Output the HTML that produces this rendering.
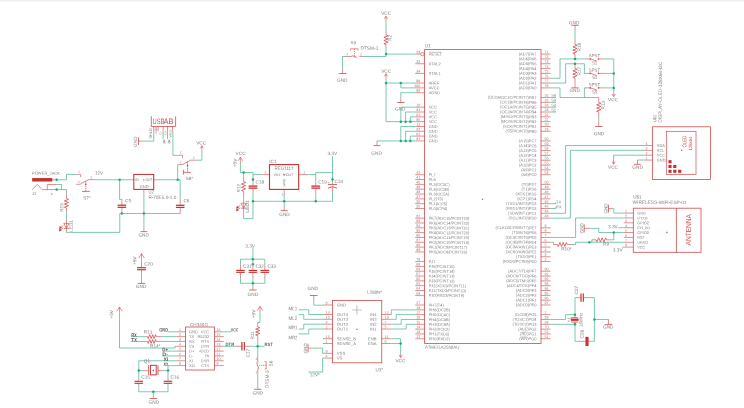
<!DOCTYPE html>
<html><head><meta charset="utf-8"><title>Schematic</title>
<style>
html,body{margin:0;padding:0;background:#fff;}
body{width:744px;height:408px;overflow:hidden;font-family:"Liberation Sans",sans-serif;}
svg{display:block;font-family:"Liberation Sans",sans-serif;}
.top{position:absolute;left:0;top:0;width:744px;height:2px;background:linear-gradient(#ececec,#fafafa);}
</style></head><body>
<div class="top"></div>
<svg width="744" height="408" viewBox="0 0 744 408" style="position:absolute;left:0;top:0;opacity:0.999" stroke-linecap="butt" stroke-linejoin="miter">
<defs><filter id="tb" x="0" y="0" width="744" height="408" filterUnits="userSpaceOnUse"><feGaussianBlur stdDeviation="0.22"/></filter></defs>
<rect x="424.6" y="49.6" width="116.4" height="293.9" stroke="#cf4a4a" stroke-width="0.8" fill="none"/>
<circle cx="482.5" cy="199.3" r="0.7" fill="#cf4a4a"/>
<polyline points="415.2,54.1 420.6,54.1" stroke="#cf4a4a" stroke-width="0.62" fill="none" />
<circle cx="422.4" cy="54.1" r="1.7" stroke="#cf4a4a" stroke-width="0.6" fill="none"/>
<polyline points="415.2,63.75 424.6,63.75" stroke="#cf4a4a" stroke-width="0.62" fill="none" />
<polyline points="415.2,73.4 424.6,73.4" stroke="#cf4a4a" stroke-width="0.62" fill="none" />
<polyline points="415.2,83.05 424.6,83.05" stroke="#cf4a4a" stroke-width="0.62" fill="none" />
<polyline points="415.2,87.88 424.6,87.88" stroke="#cf4a4a" stroke-width="0.62" fill="none" />
<polyline points="415.2,92.7 424.6,92.7" stroke="#cf4a4a" stroke-width="0.62" fill="none" />
<polyline points="415.2,107.18 424.6,107.18" stroke="#cf4a4a" stroke-width="0.62" fill="none" />
<polyline points="415.2,112 424.6,112" stroke="#cf4a4a" stroke-width="0.62" fill="none" />
<polyline points="415.2,116.83 424.6,116.83" stroke="#cf4a4a" stroke-width="0.62" fill="none" />
<polyline points="415.2,121.65 424.6,121.65" stroke="#cf4a4a" stroke-width="0.62" fill="none" />
<polyline points="415.2,126.47 424.6,126.47" stroke="#cf4a4a" stroke-width="0.62" fill="none" />
<polyline points="415.2,131.3 424.6,131.3" stroke="#cf4a4a" stroke-width="0.62" fill="none" />
<polyline points="415.2,136.12 424.6,136.12" stroke="#cf4a4a" stroke-width="0.62" fill="none" />
<polyline points="415.2,140.95 424.6,140.95" stroke="#cf4a4a" stroke-width="0.62" fill="none" />
<polyline points="415.2,174.72 424.6,174.72" stroke="#cf4a4a" stroke-width="0.62" fill="none" />
<polyline points="415.2,179.55 424.6,179.55" stroke="#cf4a4a" stroke-width="0.62" fill="none" />
<polyline points="415.2,184.38 424.6,184.38" stroke="#cf4a4a" stroke-width="0.62" fill="none" />
<polyline points="415.2,189.2 424.6,189.2" stroke="#cf4a4a" stroke-width="0.62" fill="none" />
<polyline points="415.2,194.03 424.6,194.03" stroke="#cf4a4a" stroke-width="0.62" fill="none" />
<polyline points="415.2,198.85 424.6,198.85" stroke="#cf4a4a" stroke-width="0.62" fill="none" />
<polyline points="415.2,203.68 424.6,203.68" stroke="#cf4a4a" stroke-width="0.62" fill="none" />
<polyline points="415.2,208.5 424.6,208.5" stroke="#cf4a4a" stroke-width="0.62" fill="none" />
<polyline points="415.2,218.15 424.6,218.15" stroke="#cf4a4a" stroke-width="0.62" fill="none" />
<polyline points="415.2,222.97 424.6,222.97" stroke="#cf4a4a" stroke-width="0.62" fill="none" />
<polyline points="415.2,227.8 424.6,227.8" stroke="#cf4a4a" stroke-width="0.62" fill="none" />
<polyline points="415.2,232.62 424.6,232.62" stroke="#cf4a4a" stroke-width="0.62" fill="none" />
<polyline points="415.2,237.45 424.6,237.45" stroke="#cf4a4a" stroke-width="0.62" fill="none" />
<polyline points="415.2,242.28 424.6,242.28" stroke="#cf4a4a" stroke-width="0.62" fill="none" />
<polyline points="415.2,247.1 424.6,247.1" stroke="#cf4a4a" stroke-width="0.62" fill="none" />
<polyline points="415.2,251.93 424.6,251.93" stroke="#cf4a4a" stroke-width="0.62" fill="none" />
<polyline points="415.2,261.57 424.6,261.57" stroke="#cf4a4a" stroke-width="0.62" fill="none" />
<polyline points="415.2,266.4 424.6,266.4" stroke="#cf4a4a" stroke-width="0.62" fill="none" />
<polyline points="415.2,271.23 424.6,271.23" stroke="#cf4a4a" stroke-width="0.62" fill="none" />
<polyline points="415.2,276.05 424.6,276.05" stroke="#cf4a4a" stroke-width="0.62" fill="none" />
<polyline points="415.2,280.88 424.6,280.88" stroke="#cf4a4a" stroke-width="0.62" fill="none" />
<polyline points="415.2,285.7 424.6,285.7" stroke="#cf4a4a" stroke-width="0.62" fill="none" />
<polyline points="415.2,290.53 424.6,290.53" stroke="#cf4a4a" stroke-width="0.62" fill="none" />
<polyline points="415.2,295.35 424.6,295.35" stroke="#cf4a4a" stroke-width="0.62" fill="none" />
<polyline points="415.2,305 424.6,305" stroke="#cf4a4a" stroke-width="0.62" fill="none" />
<polyline points="415.2,309.83 424.6,309.83" stroke="#cf4a4a" stroke-width="0.62" fill="none" />
<polyline points="415.2,314.65 424.6,314.65" stroke="#cf4a4a" stroke-width="0.62" fill="none" />
<polyline points="415.2,319.48 424.6,319.48" stroke="#cf4a4a" stroke-width="0.62" fill="none" />
<polyline points="415.2,324.3 424.6,324.3" stroke="#cf4a4a" stroke-width="0.62" fill="none" />
<polyline points="415.2,329.13 424.6,329.13" stroke="#cf4a4a" stroke-width="0.62" fill="none" />
<polyline points="415.2,333.95 424.6,333.95" stroke="#cf4a4a" stroke-width="0.62" fill="none" />
<polyline points="415.2,338.78 424.6,338.78" stroke="#cf4a4a" stroke-width="0.62" fill="none" />
<polyline points="507.6,129.4 512.9,129.4" stroke="#7e7e7e" stroke-width="0.35" fill="none" />
<polyline points="521.3,332.05 526.9,332.05" stroke="#7e7e7e" stroke-width="0.35" fill="none" />
<polyline points="520.6,336.88 527,336.88" stroke="#7e7e7e" stroke-width="0.35" fill="none" />
<polyline points="429.3,52.2 441.7,52.2" stroke="#7e7e7e" stroke-width="0.35" fill="none" />
<polyline points="541,54.1 550.6,54.1" stroke="#cf4a4a" stroke-width="0.62" fill="none" />
<polyline points="541,58.93 550.6,58.93" stroke="#cf4a4a" stroke-width="0.62" fill="none" />
<polyline points="541,63.75 550.6,63.75" stroke="#cf4a4a" stroke-width="0.62" fill="none" />
<polyline points="541,68.58 550.6,68.58" stroke="#cf4a4a" stroke-width="0.62" fill="none" />
<polyline points="541,73.4 550.6,73.4" stroke="#cf4a4a" stroke-width="0.62" fill="none" />
<polyline points="541,78.22 550.6,78.22" stroke="#cf4a4a" stroke-width="0.62" fill="none" />
<polyline points="541,83.05 550.6,83.05" stroke="#cf4a4a" stroke-width="0.62" fill="none" />
<polyline points="541,87.88 550.6,87.88" stroke="#cf4a4a" stroke-width="0.62" fill="none" />
<polyline points="541,97.53 550.6,97.53" stroke="#cf4a4a" stroke-width="0.62" fill="none" />
<polyline points="541,102.35 550.6,102.35" stroke="#cf4a4a" stroke-width="0.62" fill="none" />
<polyline points="541,107.18 550.6,107.18" stroke="#cf4a4a" stroke-width="0.62" fill="none" />
<polyline points="541,112 550.6,112" stroke="#cf4a4a" stroke-width="0.62" fill="none" />
<polyline points="541,116.83 550.6,116.83" stroke="#cf4a4a" stroke-width="0.62" fill="none" />
<polyline points="541,121.65 550.6,121.65" stroke="#cf4a4a" stroke-width="0.62" fill="none" />
<polyline points="541,126.47 550.6,126.47" stroke="#cf4a4a" stroke-width="0.62" fill="none" />
<polyline points="541,131.3 550.6,131.3" stroke="#cf4a4a" stroke-width="0.62" fill="none" />
<polyline points="541,140.95 550.6,140.95" stroke="#cf4a4a" stroke-width="0.62" fill="none" />
<polyline points="541,145.78 550.6,145.78" stroke="#cf4a4a" stroke-width="0.62" fill="none" />
<polyline points="541,150.6 550.6,150.6" stroke="#cf4a4a" stroke-width="0.62" fill="none" />
<polyline points="541,155.43 550.6,155.43" stroke="#cf4a4a" stroke-width="0.62" fill="none" />
<polyline points="541,160.25 550.6,160.25" stroke="#cf4a4a" stroke-width="0.62" fill="none" />
<polyline points="541,165.08 550.6,165.08" stroke="#cf4a4a" stroke-width="0.62" fill="none" />
<polyline points="541,169.9 550.6,169.9" stroke="#cf4a4a" stroke-width="0.62" fill="none" />
<polyline points="541,174.72 550.6,174.72" stroke="#cf4a4a" stroke-width="0.62" fill="none" />
<polyline points="541,184.38 550.6,184.38" stroke="#cf4a4a" stroke-width="0.62" fill="none" />
<polyline points="541,189.2 550.6,189.2" stroke="#cf4a4a" stroke-width="0.62" fill="none" />
<polyline points="541,194.03 550.6,194.03" stroke="#cf4a4a" stroke-width="0.62" fill="none" />
<polyline points="541,198.85 550.6,198.85" stroke="#cf4a4a" stroke-width="0.62" fill="none" />
<polyline points="541,203.68 550.6,203.68" stroke="#cf4a4a" stroke-width="0.62" fill="none" />
<polyline points="541,208.5 550.6,208.5" stroke="#cf4a4a" stroke-width="0.62" fill="none" />
<polyline points="541,213.32 550.6,213.32" stroke="#cf4a4a" stroke-width="0.62" fill="none" />
<polyline points="541,218.15 550.6,218.15" stroke="#cf4a4a" stroke-width="0.62" fill="none" />
<polyline points="541,227.8 550.6,227.8" stroke="#cf4a4a" stroke-width="0.62" fill="none" />
<polyline points="541,232.62 550.6,232.62" stroke="#cf4a4a" stroke-width="0.62" fill="none" />
<polyline points="541,237.45 550.6,237.45" stroke="#cf4a4a" stroke-width="0.62" fill="none" />
<polyline points="541,242.28 550.6,242.28" stroke="#cf4a4a" stroke-width="0.62" fill="none" />
<polyline points="541,247.1 550.6,247.1" stroke="#cf4a4a" stroke-width="0.62" fill="none" />
<polyline points="541,251.93 550.6,251.93" stroke="#cf4a4a" stroke-width="0.62" fill="none" />
<polyline points="541,256.75 550.6,256.75" stroke="#cf4a4a" stroke-width="0.62" fill="none" />
<polyline points="541,261.57 550.6,261.57" stroke="#cf4a4a" stroke-width="0.62" fill="none" />
<polyline points="541,271.23 550.6,271.23" stroke="#cf4a4a" stroke-width="0.62" fill="none" />
<polyline points="541,276.05 550.6,276.05" stroke="#cf4a4a" stroke-width="0.62" fill="none" />
<polyline points="541,280.88 550.6,280.88" stroke="#cf4a4a" stroke-width="0.62" fill="none" />
<polyline points="541,285.7 550.6,285.7" stroke="#cf4a4a" stroke-width="0.62" fill="none" />
<polyline points="541,290.53 550.6,290.53" stroke="#cf4a4a" stroke-width="0.62" fill="none" />
<polyline points="541,295.35 550.6,295.35" stroke="#cf4a4a" stroke-width="0.62" fill="none" />
<polyline points="541,300.18 550.6,300.18" stroke="#cf4a4a" stroke-width="0.62" fill="none" />
<polyline points="541,305 550.6,305" stroke="#cf4a4a" stroke-width="0.62" fill="none" />
<polyline points="541,314.65 550.6,314.65" stroke="#cf4a4a" stroke-width="0.62" fill="none" />
<polyline points="541,319.48 550.6,319.48" stroke="#cf4a4a" stroke-width="0.62" fill="none" />
<polyline points="541,324.3 550.6,324.3" stroke="#cf4a4a" stroke-width="0.62" fill="none" />
<polyline points="541,329.13 550.6,329.13" stroke="#cf4a4a" stroke-width="0.62" fill="none" />
<polyline points="541,333.95 550.6,333.95" stroke="#cf4a4a" stroke-width="0.62" fill="none" />
<polyline points="541,338.78 550.6,338.78" stroke="#cf4a4a" stroke-width="0.62" fill="none" />
<polyline points="386,16.3 386,21.3" stroke="#cf4a4a" stroke-width="0.62" fill="none" />
<polyline points="384.4,18.9 386,16.3 387.6,18.9" stroke="#cf4a4a" stroke-width="0.62" fill="none" />
<polyline points="386,21.3 386,31" stroke="#35b085" stroke-width="0.66" fill="none" />
<polyline points="386,31 386,35" stroke="#cf4a4a" stroke-width="0.62" fill="none" />
<polyline points="386,35 388.1,35.79 383.9,37.38 388.1,38.96 383.9,40.54 388.1,42.12 383.9,43.71 386,44.5" stroke="#cf4a4a" stroke-width="0.8" fill="none" />
<polyline points="386,44.5 386,48" stroke="#cf4a4a" stroke-width="0.62" fill="none" />
<polyline points="386,48 386,54.1" stroke="#35b085" stroke-width="0.66" fill="none" />
<circle cx="386" cy="54.1" r="1.25" fill="#22a877"/>
<polyline points="363.8,56.5 386,56.5 386,54.1 415.2,54.1" stroke="#35b085" stroke-width="0.66" fill="none" />
<polyline points="342.5,68.8 342.5,56.5 345,56.5" stroke="#35b085" stroke-width="0.66" fill="none" />
<polyline points="345,56.5 352,56.5" stroke="#cf4a4a" stroke-width="0.62" fill="none" />
<polyline points="359.4,56.5 363.8,56.5" stroke="#cf4a4a" stroke-width="0.62" fill="none" />
<polyline points="351.8,55.6 356.9,57.3" stroke="#cf4a4a" stroke-width="0.7" fill="none" />
<polyline points="350.4,50.6 350.4,48.8 358.1,48.8 358.1,50.6" stroke="#cf4a4a" stroke-width="0.62" fill="none" />
<polyline points="354.4,48.8 354.4,57.5" stroke="#cf4a4a" stroke-width="0.7" fill="none" stroke-dasharray="1.2 0.8"/>
<polyline points="342.5,68.8 342.5,73.5" stroke="#cf4a4a" stroke-width="0.62" fill="none" />
<polyline points="338.6,73.5 346.4,73.5" stroke="#cf4a4a" stroke-width="0.8" fill="none" />
<polyline points="386,73.8 386,78.6" stroke="#cf4a4a" stroke-width="0.62" fill="none" />
<polyline points="384.4,76.4 386,73.8 387.6,76.4" stroke="#cf4a4a" stroke-width="0.62" fill="none" />
<polyline points="386,78.6 386,121.65 415.2,121.65" stroke="#35b085" stroke-width="0.66" fill="none" />
<polyline points="386,83.05 415.2,83.05" stroke="#35b085" stroke-width="0.66" fill="none" />
<circle cx="386" cy="83.05" r="1.25" fill="#22a877"/>
<circle cx="400.8" cy="83.05" r="1.25" fill="#22a877"/>
<polyline points="400.8,83.05 400.8,87.88 415.2,87.88" stroke="#35b085" stroke-width="0.66" fill="none" />
<polyline points="415.2,92.7 400.8,92.7 400.8,98.5" stroke="#35b085" stroke-width="0.66" fill="none" />
<polyline points="400.8,98.5 400.8,102.5" stroke="#cf4a4a" stroke-width="0.62" fill="none" />
<polyline points="397.1,102.5 404.5,102.5" stroke="#cf4a4a" stroke-width="0.8" fill="none" />
<polyline points="415.2,107.18 400.8,107.18 400.8,121.65" stroke="#35b085" stroke-width="0.66" fill="none" />
<circle cx="400.8" cy="121.65" r="1.25" fill="#22a877"/>
<polyline points="415.2,112 405.6,112 405.6,121.65" stroke="#35b085" stroke-width="0.66" fill="none" />
<circle cx="405.6" cy="121.65" r="1.25" fill="#22a877"/>
<polyline points="415.2,116.83 410.3,116.83 410.3,121.65" stroke="#35b085" stroke-width="0.66" fill="none" />
<circle cx="410.3" cy="121.65" r="1.25" fill="#22a877"/>
<polyline points="415.2,126.47 400.8,126.47 400.8,140.95" stroke="#35b085" stroke-width="0.66" fill="none" />
<circle cx="400.8" cy="140.95" r="1.25" fill="#22a877"/>
<polyline points="415.2,131.3 405.6,131.3 405.6,140.95" stroke="#35b085" stroke-width="0.66" fill="none" />
<circle cx="405.6" cy="140.95" r="1.25" fill="#22a877"/>
<polyline points="415.2,136.12 410.3,136.12 410.3,140.95" stroke="#35b085" stroke-width="0.66" fill="none" />
<circle cx="410.3" cy="140.95" r="1.25" fill="#22a877"/>
<polyline points="377,140.95 415.2,140.95" stroke="#35b085" stroke-width="0.66" fill="none" />
<polyline points="377,140.95 377,145.6" stroke="#cf4a4a" stroke-width="0.62" fill="none" />
<polyline points="373.5,145.6 380.5,145.6" stroke="#cf4a4a" stroke-width="0.8" fill="none" />
<polyline points="571.3,25.3 578.7,25.3" stroke="#cf4a4a" stroke-width="0.8" fill="none" />
<polyline points="575,25.3 575,30" stroke="#cf4a4a" stroke-width="0.62" fill="none" />
<polyline points="575,30 575,40" stroke="#35b085" stroke-width="0.66" fill="none" />
<polyline points="575,40 575,44.5" stroke="#cf4a4a" stroke-width="0.62" fill="none" />
<polyline points="575,44.5 577.1,45.29 572.9,46.88 577.1,48.46 572.9,50.04 577.1,51.62 572.9,53.21 575,54" stroke="#cf4a4a" stroke-width="0.8" fill="none" />
<polyline points="575,54 575,58.93" stroke="#cf4a4a" stroke-width="0.62" fill="none" />
<polyline points="550.6,78.22 560,78.22 560,58.93 585,58.93" stroke="#35b085" stroke-width="0.66" fill="none" />
<circle cx="575" cy="58.93" r="1.25" fill="#22a877"/>
<polyline points="550.6,83.05 565.6,83.05 565.6,63.75 584.4,63.75 584.4,73.4 585.2,73.4" stroke="#35b085" stroke-width="0.66" fill="none" />
<circle cx="575" cy="63.75" r="1.25" fill="#22a877"/>
<polyline points="575,63.75 575,68.5" stroke="#cf4a4a" stroke-width="0.62" fill="none" />
<polyline points="575,68.5 577.1,69.29 572.9,70.88 577.1,72.46 572.9,74.04 577.1,75.62 572.9,77.21 575,78" stroke="#cf4a4a" stroke-width="0.8" fill="none" />
<polyline points="575,78 575,87.88" stroke="#cf4a4a" stroke-width="0.62" fill="none" />
<polyline points="571.3,87.88 578.7,87.88" stroke="#cf4a4a" stroke-width="0.8" fill="none" />
<polyline points="550.6,87.88 560,87.88 560,97.53 598.75,97.53" stroke="#35b085" stroke-width="0.66" fill="none" />
<polyline points="584.4,87.88 584.4,97.53" stroke="#35b085" stroke-width="0.66" fill="none" />
<polyline points="584.4,87.88 585.2,87.88" stroke="#35b085" stroke-width="0.66" fill="none" />
<polyline points="585,58.93 590.5,58.93" stroke="#cf4a4a" stroke-width="0.62" fill="none" />
<polyline points="598,58.93 603.8,58.93" stroke="#cf4a4a" stroke-width="0.62" fill="none" />
<polyline points="590.5,58.93 596.8,61.13" stroke="#cf4a4a" stroke-width="0.7" fill="none" />
<circle cx="590.3" cy="58.93" r="0.8" fill="#cf4a4a"/>
<circle cx="598.4" cy="58.93" r="0.8" fill="#cf4a4a"/>
<polyline points="603.8,58.93 613.75,58.93" stroke="#35b085" stroke-width="0.66" fill="none" />
<polyline points="585,73.4 590.5,73.4" stroke="#cf4a4a" stroke-width="0.62" fill="none" />
<polyline points="598,73.4 603.8,73.4" stroke="#cf4a4a" stroke-width="0.62" fill="none" />
<polyline points="590.5,73.4 596.8,75.6" stroke="#cf4a4a" stroke-width="0.7" fill="none" />
<circle cx="590.3" cy="73.4" r="0.8" fill="#cf4a4a"/>
<circle cx="598.4" cy="73.4" r="0.8" fill="#cf4a4a"/>
<polyline points="603.8,73.4 613.75,73.4" stroke="#35b085" stroke-width="0.66" fill="none" />
<polyline points="585,87.88 590.5,87.88" stroke="#cf4a4a" stroke-width="0.62" fill="none" />
<polyline points="598,87.88 603.8,87.88" stroke="#cf4a4a" stroke-width="0.62" fill="none" />
<polyline points="590.5,87.88 596.8,90.08" stroke="#cf4a4a" stroke-width="0.7" fill="none" />
<circle cx="590.3" cy="87.88" r="0.8" fill="#cf4a4a"/>
<circle cx="598.4" cy="87.88" r="0.8" fill="#cf4a4a"/>
<polyline points="603.8,87.88 613.75,87.88" stroke="#35b085" stroke-width="0.66" fill="none" />
<polyline points="613.75,58.93 613.75,92.5" stroke="#35b085" stroke-width="0.66" fill="none" />
<circle cx="613.75" cy="73.4" r="1.25" fill="#22a877"/>
<circle cx="613.75" cy="87.88" r="1.25" fill="#22a877"/>
<polyline points="613.75,96.6 613.75,92.5" stroke="#cf4a4a" stroke-width="0.62" fill="none" />
<polyline points="612.15,94 613.75,96.6 615.35,94" stroke="#cf4a4a" stroke-width="0.62" fill="none" />
<polyline points="598.75,97.53 598.75,102.5" stroke="#cf4a4a" stroke-width="0.62" fill="none" />
<polyline points="598.75,102.5 600.85,103.29 596.65,104.88 600.85,106.46 596.65,108.04 600.85,109.62 596.65,111.21 598.75,112" stroke="#cf4a4a" stroke-width="0.8" fill="none" />
<polyline points="598.75,112 598.75,117" stroke="#cf4a4a" stroke-width="0.62" fill="none" />
<polyline points="598.75,117 598.75,122" stroke="#35b085" stroke-width="0.66" fill="none" />
<polyline points="598.75,122 598.75,126.5" stroke="#cf4a4a" stroke-width="0.62" fill="none" />
<polyline points="595.05,126.5 602.45,126.5" stroke="#cf4a4a" stroke-width="0.8" fill="none" />
<polyline points="550.6,97.53 556,97.53" stroke="#35b085" stroke-width="0.66" fill="none" />
<polyline points="550.6,102.35 556,102.35" stroke="#35b085" stroke-width="0.66" fill="none" />
<polyline points="550.6,107.18 556,107.18" stroke="#35b085" stroke-width="0.66" fill="none" />
<polyline points="550.6,112 556,112" stroke="#35b085" stroke-width="0.66" fill="none" />
<polyline points="550.6,213.32 565.6,213.32 565.6,145.5 644.3,145.5" stroke="#35b085" stroke-width="0.66" fill="none" />
<polyline points="550.6,218.15 570.4,218.15 570.4,150.3 644.3,150.3" stroke="#35b085" stroke-width="0.66" fill="none" />
<polyline points="550.6,203.68 555.8,203.68 555.8,202.08" stroke="#35b085" stroke-width="0.66" fill="none" />
<polyline points="550.6,208.5 555.8,208.5 555.8,206.9" stroke="#35b085" stroke-width="0.66" fill="none" />
<rect x="652.4" y="126.8" width="58.1" height="52.7" stroke="#cf4a4a" stroke-width="0.8" fill="none"/>
<rect x="666.3" y="131.3" width="29.7" height="43.2" stroke="#cf4a4a" stroke-width="0.7" fill="none"/>
<polyline points="644.3,145.5 652.4,145.5" stroke="#cf4a4a" stroke-width="0.62" fill="none" />
<polyline points="644.3,150.35 652.4,150.35" stroke="#cf4a4a" stroke-width="0.62" fill="none" />
<polyline points="644.3,155.2 652.4,155.2" stroke="#cf4a4a" stroke-width="0.62" fill="none" />
<polyline points="644.3,160.05 652.4,160.05" stroke="#cf4a4a" stroke-width="0.62" fill="none" />
<rect x="668.45" y="160.15" width="3.1" height="3.1" fill="#c62f2f"/>
<rect x="668.45" y="164.95" width="3.1" height="3.1" fill="#c62f2f"/>
<rect x="673.25" y="164.95" width="3.1" height="3.1" fill="#c62f2f"/>
<rect x="668.45" y="169.75" width="3.1" height="3.1" fill="#c62f2f"/>
<rect x="673.25" y="169.75" width="3.1" height="3.1" fill="#c62f2f"/>
<rect x="678.15" y="169.75" width="3.1" height="3.1" fill="#c62f2f"/>
<circle cx="681.7" cy="150.3" r="0.7" fill="#cf4a4a"/>
<polyline points="644.3,155.2 613.6,155.2 613.6,160" stroke="#35b085" stroke-width="0.66" fill="none" />
<polyline points="613.6,164.2 613.6,160" stroke="#cf4a4a" stroke-width="0.62" fill="none" />
<polyline points="612,161.6 613.6,164.2 615.2,161.6" stroke="#cf4a4a" stroke-width="0.62" fill="none" />
<polyline points="644.3,160 637.5,160" stroke="#35b085" stroke-width="0.66" fill="none" />
<polyline points="637.5,160 637.5,164.3" stroke="#cf4a4a" stroke-width="0.62" fill="none" />
<polyline points="634.1,164.3 640.9,164.3" stroke="#cf4a4a" stroke-width="0.8" fill="none" />
<rect x="633.3" y="208.2" width="67.7" height="44.1" stroke="#cf4a4a" stroke-width="0.8" fill="none"/>
<polyline points="676.4,208.2 676.4,252.3" stroke="#cf4a4a" stroke-width="0.8" fill="none" />
<path d="M665.8 232.5h2M666.8 231.5v2" stroke="#cf4a4a" stroke-width="0.5"/>
<polyline points="623.75,213.1 633.3,213.1" stroke="#cf4a4a" stroke-width="0.62" fill="none" />
<polyline points="623.75,217.96 633.3,217.96" stroke="#cf4a4a" stroke-width="0.62" fill="none" />
<polyline points="623.75,222.82 633.3,222.82" stroke="#cf4a4a" stroke-width="0.62" fill="none" />
<polyline points="623.75,227.68 633.3,227.68" stroke="#cf4a4a" stroke-width="0.62" fill="none" />
<polyline points="623.75,232.54 633.3,232.54" stroke="#cf4a4a" stroke-width="0.62" fill="none" />
<polyline points="623.75,237.4 633.3,237.4" stroke="#cf4a4a" stroke-width="0.62" fill="none" />
<polyline points="623.75,242.26 633.3,242.26" stroke="#cf4a4a" stroke-width="0.62" fill="none" />
<polyline points="623.75,247.12 633.3,247.12" stroke="#cf4a4a" stroke-width="0.62" fill="none" />
<polyline points="623.75,213.1 613.75,213.1 613.75,208.6 611,208.6" stroke="#35b085" stroke-width="0.66" fill="none" />
<polyline points="611,208.6 608.5,208.6" stroke="#cf4a4a" stroke-width="0.62" fill="none" />
<polyline points="608.5,204.8 608.5,212.5" stroke="#cf4a4a" stroke-width="0.8" fill="none" />
<polyline points="550.6,237.45 575.6,237.45 575.6,217.96 623.75,217.96" stroke="#35b085" stroke-width="0.66" fill="none" />
<polyline points="618.3,227.68 623.75,227.68" stroke="#35b085" stroke-width="0.66" fill="none" />
<polyline points="623.75,232.54 598.75,232.54 598.75,228.4 589,228.4" stroke="#35b085" stroke-width="0.66" fill="none" />
<polyline points="589,228.4 584.2,228.4" stroke="#cf4a4a" stroke-width="0.62" fill="none" />
<polyline points="584.2,224.4 584.2,232.5" stroke="#cf4a4a" stroke-width="0.8" fill="none" />
<circle cx="613.75" cy="232.54" r="1.25" fill="#22a877"/>
<polyline points="613.75,232.54 613.75,239.8 611.2,239.8" stroke="#35b085" stroke-width="0.66" fill="none" />
<polyline points="591.9,239.8 596,239.8" stroke="#cf4a4a" stroke-width="0.62" fill="none" />
<polyline points="596,239.8 596.88,241.8 598.62,237.8 600.38,241.8 602.12,237.8 603.88,241.8 605.62,237.8 606.5,239.8" stroke="#cf4a4a" stroke-width="0.8" fill="none" />
<polyline points="606.5,239.8 611.2,239.8" stroke="#cf4a4a" stroke-width="0.62" fill="none" />
<polyline points="591.9,239.8 591.9,242.26" stroke="#35b085" stroke-width="0.66" fill="none" />
<circle cx="589.4" cy="242.26" r="1.25" fill="#22a877"/>
<polyline points="550.6,242.28 553.6,242.28 553.6,244.5" stroke="#35b085" stroke-width="0.66" fill="none" />
<polyline points="553.6,244.5 557.5,244.5" stroke="#cf4a4a" stroke-width="0.62" fill="none" />
<polyline points="557.5,244.5 558.31,246.5 559.92,242.5 561.54,246.5 563.16,242.5 564.78,246.5 566.39,242.5 567.2,244.5" stroke="#cf4a4a" stroke-width="0.8" fill="none" />
<polyline points="567.2,244.5 572,244.5" stroke="#cf4a4a" stroke-width="0.62" fill="none" />
<polyline points="572,244.5 575.6,244.5 575.6,242.26 623.75,242.26" stroke="#35b085" stroke-width="0.66" fill="none" />
<polyline points="621.8,247.12 623.75,247.12" stroke="#35b085" stroke-width="0.66" fill="none" />
<polyline points="550.6,319.48 565.6,319.48 565.6,314.65 575,314.65" stroke="#35b085" stroke-width="0.66" fill="none" />
<polyline points="550.6,324.3 575,324.3" stroke="#35b085" stroke-width="0.66" fill="none" />
<circle cx="575" cy="314.65" r="1.25" fill="#22a877"/>
<circle cx="575" cy="324.3" r="1.25" fill="#22a877"/>
<polyline points="575,297.6 575,314.65" stroke="#35b085" stroke-width="0.66" fill="none" />
<polyline points="575,324.3 575,341.3 580,341.3" stroke="#35b085" stroke-width="0.66" fill="none" />
<polyline points="575,314.65 575,317.6" stroke="#cf4a4a" stroke-width="0.62" fill="none" />
<polyline points="575,322 575,324.3" stroke="#cf4a4a" stroke-width="0.62" fill="none" />
<polyline points="571.2,317.6 578.2,317.6" stroke="#cf4a4a" stroke-width="0.8" fill="none" />
<polyline points="571.2,322 578.2,322" stroke="#cf4a4a" stroke-width="0.8" fill="none" />
<rect x="571" y="318.9" width="7.4" height="1.8" stroke="#c62f2f" stroke-width="0.5" fill="#c62f2f"/>
<polyline points="575,297.6 576,297.6" stroke="#35b085" stroke-width="0.66" fill="none" />
<polyline points="576,297.6 581,297.6" stroke="#cf4a4a" stroke-width="0.62" fill="none" />
<polyline points="583.2,297.6 588.8,297.6" stroke="#cf4a4a" stroke-width="0.62" fill="none" />
<polyline points="581,293.4 581,301.8" stroke="#c62f2f" stroke-width="1.2" fill="none" />
<polyline points="583.3,293.4 583.3,301.8" stroke="#c62f2f" stroke-width="1.2" fill="none" />
<polyline points="588.8,297.6 594.4,297.6 594.4,341.3 590.5,341.3" stroke="#35b085" stroke-width="0.66" fill="none" />
<polyline points="580,341.3 585.6,341.3" stroke="#cf4a4a" stroke-width="0.62" fill="none" />
<polyline points="588.5,341.3 590.5,341.3" stroke="#cf4a4a" stroke-width="0.62" fill="none" />
<rect x="585.7" y="337" width="2.7" height="8.9" stroke="#c62f2f" stroke-width="0.3" fill="#c62f2f"/>
<circle cx="594.4" cy="319.48" r="1.25" fill="#22a877"/>
<polyline points="594.4,319.48 608.5,319.48" stroke="#35b085" stroke-width="0.66" fill="none" />
<polyline points="608.5,319.48 608.5,324.4" stroke="#cf4a4a" stroke-width="0.62" fill="none" />
<polyline points="604.8,324.4 612.2,324.4" stroke="#cf4a4a" stroke-width="0.8" fill="none" />
<rect x="32.2" y="178.1" width="20" height="3.3" stroke="#c62f2f" stroke-width="0.2" fill="#c62f2f"/>
<polyline points="52.2,179.75 56.7,179.75" stroke="#cf4a4a" stroke-width="0.62" fill="none" />
<circle cx="56.7" cy="179.75" r="1.25" fill="#22a877"/>
<polyline points="56.7,179.75 66.5,179.75 66.5,174.4 76.8,174.4" stroke="#35b085" stroke-width="0.66" fill="none" />
<polyline points="76.8,174.4 80.7,174.4 80.7,177.2" stroke="#cf4a4a" stroke-width="0.62" fill="none" />
<polyline points="32.2,189.8 37.3,184.3 42.2,189.6 56.7,189.6" stroke="#cf4a4a" stroke-width="0.62" fill="none" />
<polyline points="47.3,189.6 47.3,184.5 56.7,184.5" stroke="#cf4a4a" stroke-width="0.62" fill="none" />
<polyline points="56.7,184.5 61.6,184.5 61.6,189.6" stroke="#35b085" stroke-width="0.66" fill="none" />
<circle cx="56.7" cy="189.6" r="1.25" fill="#22a877"/>
<polyline points="56.7,189.6 66.5,189.6 66.5,194.3" stroke="#35b085" stroke-width="0.66" fill="none" />
<circle cx="51.8" cy="194.1" r="0.7" fill="#cf4a4a"/>
<polyline points="66.5,194.3 66.5,198.6" stroke="#cf4a4a" stroke-width="0.62" fill="none" />
<polyline points="66.5,198.6 68.6,199.38 64.4,200.95 68.6,202.52 64.4,204.08 68.6,205.65 64.4,207.22 66.5,208" stroke="#cf4a4a" stroke-width="0.8" fill="none" />
<polyline points="66.5,208 66.5,212.4" stroke="#cf4a4a" stroke-width="0.62" fill="none" />
<polyline points="66.5,212.4 66.5,219.3" stroke="#35b085" stroke-width="0.66" fill="none" />
<polyline points="66.5,219.3 66.5,232.4" stroke="#cf4a4a" stroke-width="0.62" fill="none" />
<path d="M63.8 223.4h5.4l-2.7 4.9zM63.8 228.4h5.4" stroke="#cf4a4a" stroke-width="0.65" fill="none"/>
<path d="M63.3 225.6l-3.2 2.4M63.1 228l-3.2 2.4M59.3 231l0.5-2 1.4 1.4zM59.5 228.5l0.5-2 1.4 1.4z" stroke="#c62f2f" stroke-width="0.6" fill="#c62f2f"/>
<polyline points="66.5,232.4 119.75,232.4 119.75,213.5" stroke="#35b085" stroke-width="0.66" fill="none" />
<polyline points="76.2,184.3 80.7,184.3" stroke="#cf4a4a" stroke-width="0.62" fill="none" />
<polyline points="80.7,183.6 88.8,179.7" stroke="#cf4a4a" stroke-width="0.7" fill="none" />
<polyline points="88.6,179.6 95,179.6" stroke="#cf4a4a" stroke-width="0.62" fill="none" />
<polyline points="85.8,181.6 85.8,191.3" stroke="#cf4a4a" stroke-width="0.7" fill="none" stroke-dasharray="1.5 0.6"/>
<polyline points="82.1,191.4 89.8,191.4" stroke="#cf4a4a" stroke-width="0.8" fill="none" />
<path d="M85.8 183.3l0.9 1-0.9 1-0.9-1z" fill="#c62f2f"/>
<polyline points="95,179.75 129.2,179.75" stroke="#35b085" stroke-width="0.66" fill="none" />
<polyline points="129.2,179.75 133.9,179.75" stroke="#cf4a4a" stroke-width="0.62" fill="none" />
<circle cx="119.6" cy="179.75" r="1.25" fill="#22a877"/>
<polyline points="119.6,179.75 119.6,199.4 121.9,199.4" stroke="#35b085" stroke-width="0.66" fill="none" />
<polyline points="121.9,199.4 121.9,205.1" stroke="#cf4a4a" stroke-width="0.62" fill="none" />
<polyline points="121.9,207.4 121.9,213.5" stroke="#cf4a4a" stroke-width="0.62" fill="none" />
<polyline points="117.6,205.2 126.2,205.2" stroke="#c62f2f" stroke-width="1.25" fill="none" />
<polyline points="117.6,207.3 126.2,207.3" stroke="#c62f2f" stroke-width="1.25" fill="none" />
<circle cx="121.9" cy="213.5" r="1.25" fill="#22a877"/>
<polyline points="119.75,213.5 180.2,213.5" stroke="#35b085" stroke-width="0.66" fill="none" />
<rect x="133.8" y="174.4" width="19.9" height="15" stroke="#c62f2f" stroke-width="1.05" fill="none"/>
<polyline points="153.8,179.75 157.6,179.75" stroke="#cf4a4a" stroke-width="0.62" fill="none" />
<circle cx="143.8" cy="179.8" r="0.65" fill="#c62f2f"/>
<polyline points="143.9,189.6 143.9,194" stroke="#cf4a4a" stroke-width="0.62" fill="none" />
<polyline points="143.9,194 143.9,227" stroke="#35b085" stroke-width="0.66" fill="none" />
<circle cx="143.9" cy="213.5" r="1.25" fill="#22a877"/>
<polyline points="143.9,227 143.9,231.6" stroke="#cf4a4a" stroke-width="0.62" fill="none" />
<polyline points="140.5,231.6 147.3,231.6" stroke="#cf4a4a" stroke-width="0.8" fill="none" />
<polyline points="157.6,179.75 180.2,179.75 180.2,200" stroke="#35b085" stroke-width="0.66" fill="none" />
<circle cx="177.7" cy="179.75" r="1.25" fill="#22a877"/>
<polyline points="180.2,200 180.2,205.2" stroke="#cf4a4a" stroke-width="0.62" fill="none" />
<polyline points="180.2,207.6 180.2,213.5" stroke="#cf4a4a" stroke-width="0.62" fill="none" />
<polyline points="175.9,205.3 184.5,205.3" stroke="#c62f2f" stroke-width="1.25" fill="none" />
<polyline points="175.9,207.4 184.5,207.4" stroke="#c62f2f" stroke-width="1.25" fill="none" />
<polyline points="177.7,179.75 177.7,164.6 178.8,164.6" stroke="#35b085" stroke-width="0.66" fill="none" />
<polyline points="178.8,164.6 182.6,164.6" stroke="#cf4a4a" stroke-width="0.62" fill="none" />
<polyline points="182.6,164.6 190.5,160.2" stroke="#cf4a4a" stroke-width="0.7" fill="none" />
<polyline points="190.5,160.2 196,160.2" stroke="#cf4a4a" stroke-width="0.62" fill="none" />
<polyline points="196,160.2 201.9,160.2 201.9,150.6" stroke="#35b085" stroke-width="0.66" fill="none" />
<polyline points="201.9,145.8 201.9,150.6" stroke="#cf4a4a" stroke-width="0.62" fill="none" />
<polyline points="200.3,148.4 201.9,145.8 203.5,148.4" stroke="#cf4a4a" stroke-width="0.62" fill="none" />
<polyline points="187.5,161.6 187.5,172.3" stroke="#cf4a4a" stroke-width="0.7" fill="none" stroke-dasharray="1.5 0.6"/>
<polyline points="183.4,172.3 191,172.3" stroke="#cf4a4a" stroke-width="0.8" fill="none" />
<polyline points="183.4,169.8 183.4,174.7" stroke="#cf4a4a" stroke-width="0.8" fill="none" />
<path d="M187.5 164.4l0.9 1-0.9 1-0.9-1z" fill="#c62f2f"/>
<polyline points="151.3,116.3 151.3,126.5 175.6,126.5 175.6,116.3" stroke="#cf4a4a" stroke-width="0.8" fill="none" />
<polyline points="153.75,126.5 153.75,131.3" stroke="#cf4a4a" stroke-width="0.62" fill="none" />
<polyline points="158.1,126.5 158.1,131.3" stroke="#cf4a4a" stroke-width="0.62" fill="none" />
<polyline points="163.1,126.5 163.1,131.3" stroke="#cf4a4a" stroke-width="0.62" fill="none" />
<polyline points="167.5,126.5 167.5,131.3" stroke="#cf4a4a" stroke-width="0.62" fill="none" />
<polyline points="172.6,126.5 172.6,131.3" stroke="#cf4a4a" stroke-width="0.62" fill="none" />
<polyline points="153.75,131.3 153.75,141.1 143.8,141.1" stroke="#35b085" stroke-width="0.66" fill="none" />
<polyline points="143.8,141.1 138.5,141.1" stroke="#cf4a4a" stroke-width="0.62" fill="none" />
<polyline points="138.5,137.3 138.5,145" stroke="#cf4a4a" stroke-width="0.8" fill="none" />
<polyline points="163.1,131.3 163.1,138.8" stroke="#35b085" stroke-width="0.66" fill="none" />
<polyline points="167.5,131.3 167.5,138.8" stroke="#35b085" stroke-width="0.66" fill="none" />
<path d="M163.2 139.6l2 2.6M165.2 139.6l-2 2.6M162.9 142.8h2.6" stroke="#777" stroke-width="0.6"/>
<path d="M168.2 139.6l2 2.6M170.2 139.6l-2 2.6M167.9 142.8h2.6" stroke="#777" stroke-width="0.6"/>
<polyline points="172.9,131.3 172.9,155.3 178.1,155.3" stroke="#35b085" stroke-width="0.66" fill="none" />
<polyline points="178.1,155.3 182.5,155.3 182.5,158.1" stroke="#cf4a4a" stroke-width="0.62" fill="none" />
<polyline points="240.4,157.2 240.4,164" stroke="#cf4a4a" stroke-width="0.62" fill="none" />
<polyline points="238.1,160.8 240.4,157.2 242.7,160.8" stroke="#cf4a4a" stroke-width="0.62" fill="none" />
<polyline points="240.4,164 240.4,172.5 253,172.5 253,174.6" stroke="#35b085" stroke-width="0.66" fill="none" />
<circle cx="243.6" cy="172.5" r="1.25" fill="#22a877"/>
<polyline points="253,174.6 262.5,174.6" stroke="#35b085" stroke-width="0.66" fill="none" />
<polyline points="262.5,174.6 269.4,174.6" stroke="#cf4a4a" stroke-width="0.62" fill="none" />
<polyline points="243.6,172.5 243.6,177.5" stroke="#35b085" stroke-width="0.66" fill="none" />
<polyline points="243.6,177.5 243.6,181.6" stroke="#cf4a4a" stroke-width="0.62" fill="none" />
<polyline points="243.6,181.6 245.7,182.41 241.5,184.03 245.7,185.64 241.5,187.26 245.7,188.88 241.5,190.49 243.6,191.3" stroke="#cf4a4a" stroke-width="0.8" fill="none" />
<polyline points="243.6,191.3 243.6,196.3" stroke="#cf4a4a" stroke-width="0.62" fill="none" />
<polyline points="243.6,196.3 243.6,202.5" stroke="#35b085" stroke-width="0.66" fill="none" />
<polyline points="243.6,202.5 243.6,213" stroke="#cf4a4a" stroke-width="0.62" fill="none" />
<polyline points="243.6,213 243.6,218.6" stroke="#35b085" stroke-width="0.66" fill="none" />
<path d="M240.9 203.2h5.4l-2.7 4.9zM240.9 208.2h5.4" stroke="#cf4a4a" stroke-width="0.65" fill="none"/>
<path d="M240.4 205.4l-3.2 2.4M240.2 207.8l-3.2 2.4M236.4 210.8l0.5-2 1.4 1.4zM236.6 208.3l0.5-2 1.4 1.4z" stroke="#c62f2f" stroke-width="0.6" fill="#c62f2f"/>
<polyline points="243.6,218.6 253,218.6 253,201.3" stroke="#35b085" stroke-width="0.66" fill="none" />
<polyline points="253,174.6 253,181.5" stroke="#35b085" stroke-width="0.66" fill="none" />
<circle cx="253" cy="179.6" r="1.25" fill="#22a877"/>
<polyline points="253,181.5 253,185.6" stroke="#cf4a4a" stroke-width="0.62" fill="none" />
<polyline points="253,188.6 253,193" stroke="#cf4a4a" stroke-width="0.62" fill="none" />
<polyline points="248.6,186.1 257.4,186.1" stroke="#c62f2f" stroke-width="1.3" fill="none" />
<polyline points="248.6,188.1 257.4,188.1" stroke="#c62f2f" stroke-width="1.3" fill="none" />
<polyline points="253,193 253,201.3" stroke="#35b085" stroke-width="0.66" fill="none" />
<rect x="269.5" y="164.6" width="29.2" height="24.8" stroke="#c62f2f" stroke-width="1.1" fill="none"/>
<circle cx="283.9" cy="174.6" r="0.7" fill="#c62f2f"/>
<polyline points="298.7,174.6 308.2,174.6" stroke="#cf4a4a" stroke-width="0.62" fill="none" />
<polyline points="308.2,174.6 315.75,174.6 315.75,181.5" stroke="#35b085" stroke-width="0.66" fill="none" />
<polyline points="315.75,172.6 332.5,172.6" stroke="#35b085" stroke-width="0.66" fill="none" />
<polyline points="315.75,172.6 315.75,174.6" stroke="#35b085" stroke-width="0.66" fill="none" />
<polyline points="315.75,181.5 315.75,185.6" stroke="#cf4a4a" stroke-width="0.62" fill="none" />
<polyline points="315.75,188.6 315.75,193" stroke="#cf4a4a" stroke-width="0.62" fill="none" />
<polyline points="311.35,186.1 320.15,186.1" stroke="#c62f2f" stroke-width="1.3" fill="none" />
<polyline points="311.35,188.1 320.15,188.1" stroke="#c62f2f" stroke-width="1.3" fill="none" />
<polyline points="315.75,193 315.75,201.3" stroke="#35b085" stroke-width="0.66" fill="none" />
<polyline points="332.5,156 332.5,182.5" stroke="#35b085" stroke-width="0.66" fill="none" />
<circle cx="332.5" cy="179.6" r="1.25" fill="#22a877"/>
<polyline points="332.5,182.5 332.5,184.6" stroke="#cf4a4a" stroke-width="0.62" fill="none" />
<polyline points="328,184.6 337,184.6" stroke="#cf4a4a" stroke-width="0.9" fill="none" />
<path d="M328 188.2q4.5 -3 9 0" stroke="#cf4a4a" stroke-width="0.9" fill="none"/>
<polyline points="332.5,186.7 332.5,191" stroke="#cf4a4a" stroke-width="0.62" fill="none" />
<polyline points="332.5,191 332.5,201.3" stroke="#35b085" stroke-width="0.66" fill="none" />
<polyline points="253,201.3 332.5,201.3" stroke="#35b085" stroke-width="0.66" fill="none" />
<circle cx="253" cy="201.3" r="1.25" fill="#22a877"/>
<circle cx="284.2" cy="201.3" r="1.25" fill="#22a877"/>
<circle cx="315.75" cy="201.3" r="1.25" fill="#22a877"/>
<polyline points="284.2,189.6 284.2,196" stroke="#cf4a4a" stroke-width="0.62" fill="none" />
<polyline points="284.2,196 284.2,207" stroke="#35b085" stroke-width="0.66" fill="none" />
<polyline points="284.2,207 284.2,210.6" stroke="#cf4a4a" stroke-width="0.62" fill="none" />
<polyline points="280.8,210.6 287.6,210.6" stroke="#cf4a4a" stroke-width="0.8" fill="none" />
<polyline points="141.5,253.6 141.5,258.4" stroke="#cf4a4a" stroke-width="0.62" fill="none" />
<polyline points="138.7,258 141.5,253.6 144.3,258" stroke="#cf4a4a" stroke-width="0.62" fill="none" />
<polyline points="141.5,258.4 141.5,262" stroke="#35b085" stroke-width="0.66" fill="none" />
<polyline points="141.5,262 141.5,267.5" stroke="#cf4a4a" stroke-width="0.62" fill="none" />
<polyline points="141.5,270 141.5,276" stroke="#cf4a4a" stroke-width="0.62" fill="none" />
<polyline points="137,267.7 146,267.7" stroke="#c62f2f" stroke-width="1.15" fill="none" />
<polyline points="137,269.7 146,269.7" stroke="#c62f2f" stroke-width="1.15" fill="none" />
<polyline points="141.5,276 141.5,279" stroke="#35b085" stroke-width="0.66" fill="none" />
<polyline points="141.5,279 141.5,283.4" stroke="#cf4a4a" stroke-width="0.62" fill="none" />
<polyline points="137.8,283.4 145.2,283.4" stroke="#cf4a4a" stroke-width="0.8" fill="none" />
<polyline points="252.9,247.6 252.9,264.3" stroke="#35b085" stroke-width="0.66" fill="none" />
<circle cx="252.9" cy="259.2" r="1.25" fill="#22a877"/>
<circle cx="252.9" cy="264.3" r="1.25" fill="#22a877"/>
<polyline points="240.5,264.5 240.5,259.2 264.8,259.2 264.8,264.5" stroke="#35b085" stroke-width="0.66" fill="none" />
<polyline points="240.5,264.5 240.5,270.3" stroke="#cf4a4a" stroke-width="0.62" fill="none" />
<polyline points="240.5,272.5 240.5,278" stroke="#cf4a4a" stroke-width="0.62" fill="none" />
<polyline points="236.2,270.4 244.8,270.4" stroke="#c62f2f" stroke-width="1.15" fill="none" />
<polyline points="236.2,272.3 244.8,272.3" stroke="#c62f2f" stroke-width="1.15" fill="none" />
<polyline points="252.9,264.5 252.9,270.3" stroke="#cf4a4a" stroke-width="0.62" fill="none" />
<polyline points="252.9,272.5 252.9,278" stroke="#cf4a4a" stroke-width="0.62" fill="none" />
<polyline points="248.6,270.4 257.2,270.4" stroke="#c62f2f" stroke-width="1.15" fill="none" />
<polyline points="248.6,272.3 257.2,272.3" stroke="#c62f2f" stroke-width="1.15" fill="none" />
<polyline points="264.8,264.5 264.8,270.3" stroke="#cf4a4a" stroke-width="0.62" fill="none" />
<polyline points="264.8,272.5 264.8,278" stroke="#cf4a4a" stroke-width="0.62" fill="none" />
<polyline points="260.5,270.4 269.1,270.4" stroke="#c62f2f" stroke-width="1.15" fill="none" />
<polyline points="260.5,272.3 269.1,272.3" stroke="#c62f2f" stroke-width="1.15" fill="none" />
<polyline points="240.5,278 240.5,283.3 264.8,283.3 264.8,278" stroke="#35b085" stroke-width="0.66" fill="none" />
<polyline points="252.9,278 252.9,287" stroke="#35b085" stroke-width="0.66" fill="none" />
<circle cx="252.9" cy="283.3" r="1.25" fill="#22a877"/>
<polyline points="252.9,287 252.9,290" stroke="#cf4a4a" stroke-width="0.62" fill="none" />
<polyline points="249.2,290 256.6,290" stroke="#cf4a4a" stroke-width="0.8" fill="none" />
<rect x="185.6" y="327" width="28.9" height="43" stroke="#cf4a4a" stroke-width="0.8" fill="none"/>
<polyline points="176.3,331.8 185.6,331.8" stroke="#cf4a4a" stroke-width="0.62" fill="none" />
<polyline points="214.5,331.8 223.75,331.8" stroke="#cf4a4a" stroke-width="0.62" fill="none" />
<polyline points="176.3,336.63 185.6,336.63" stroke="#cf4a4a" stroke-width="0.62" fill="none" />
<polyline points="214.5,336.63 223.75,336.63" stroke="#cf4a4a" stroke-width="0.62" fill="none" />
<polyline points="176.3,341.46 185.6,341.46" stroke="#cf4a4a" stroke-width="0.62" fill="none" />
<polyline points="214.5,341.46 223.75,341.46" stroke="#cf4a4a" stroke-width="0.62" fill="none" />
<polyline points="176.3,346.29 185.6,346.29" stroke="#cf4a4a" stroke-width="0.62" fill="none" />
<polyline points="214.5,346.29 223.75,346.29" stroke="#cf4a4a" stroke-width="0.62" fill="none" />
<polyline points="176.3,351.12 185.6,351.12" stroke="#cf4a4a" stroke-width="0.62" fill="none" />
<polyline points="214.5,351.12 223.75,351.12" stroke="#cf4a4a" stroke-width="0.62" fill="none" />
<polyline points="176.3,355.95 185.6,355.95" stroke="#cf4a4a" stroke-width="0.62" fill="none" />
<polyline points="214.5,355.95 223.75,355.95" stroke="#cf4a4a" stroke-width="0.62" fill="none" />
<polyline points="176.3,360.78 185.6,360.78" stroke="#cf4a4a" stroke-width="0.62" fill="none" />
<polyline points="214.5,360.78 223.75,360.78" stroke="#cf4a4a" stroke-width="0.62" fill="none" />
<polyline points="176.3,365.61 185.6,365.61" stroke="#cf4a4a" stroke-width="0.62" fill="none" />
<polyline points="214.5,365.61 223.75,365.61" stroke="#cf4a4a" stroke-width="0.62" fill="none" />
<circle cx="200" cy="351.12" r="0.6" fill="#cf4a4a"/>
<polyline points="168,331.8 176.3,331.8" stroke="#35b085" stroke-width="0.66" fill="none" />
<polyline points="131.2,336.63 145,336.63" stroke="#35b085" stroke-width="0.66" fill="none" />
<polyline points="145,336.63 147.5,336.63" stroke="#cf4a4a" stroke-width="0.62" fill="none" />
<polyline points="147.5,336.63 148.23,338.63 149.7,334.63 151.17,338.63 152.63,334.63 154.1,338.63 155.57,334.63 156.3,336.63" stroke="#cf4a4a" stroke-width="0.8" fill="none" />
<polyline points="156.3,336.63 161.3,336.63" stroke="#cf4a4a" stroke-width="0.62" fill="none" />
<polyline points="161.3,336.63 176.3,336.63" stroke="#35b085" stroke-width="0.66" fill="none" />
<polyline points="131.2,341.46 145,341.46" stroke="#35b085" stroke-width="0.66" fill="none" />
<polyline points="145,341.46 147.5,341.46" stroke="#cf4a4a" stroke-width="0.62" fill="none" />
<polyline points="147.5,341.46 148.23,343.46 149.7,339.46 151.17,343.46 152.63,339.46 154.1,343.46 155.57,339.46 156.3,341.46" stroke="#cf4a4a" stroke-width="0.8" fill="none" />
<polyline points="156.3,341.46 161.3,341.46" stroke="#cf4a4a" stroke-width="0.62" fill="none" />
<polyline points="161.3,341.46 176.3,341.46" stroke="#35b085" stroke-width="0.66" fill="none" />
<polyline points="119.5,307 119.5,312.5" stroke="#cf4a4a" stroke-width="0.62" fill="none" />
<polyline points="116.8,311.3 119.5,307 122.2,311.3" stroke="#cf4a4a" stroke-width="0.62" fill="none" />
<polyline points="119.5,312.5 119.5,348 175,348 175,346.29 176.3,346.29" stroke="#35b085" stroke-width="0.66" fill="none" />
<polyline points="162.6,351.12 176.3,351.12" stroke="#35b085" stroke-width="0.66" fill="none" />
<polyline points="162.6,355.95 176.3,355.95" stroke="#35b085" stroke-width="0.66" fill="none" />
<polyline points="176.3,360.78 138.75,360.78 138.75,378.5" stroke="#35b085" stroke-width="0.66" fill="none" />
<polyline points="176.3,365.61 168,365.61 168,378.5" stroke="#35b085" stroke-width="0.66" fill="none" />
<circle cx="138.75" cy="370.6" r="1.25" fill="#22a877"/>
<circle cx="168" cy="370.6" r="1.25" fill="#22a877"/>
<polyline points="138.75,370.6 144.2,370.6" stroke="#35b085" stroke-width="0.66" fill="none" />
<polyline points="162.8,370.6 168,370.6" stroke="#35b085" stroke-width="0.66" fill="none" />
<polyline points="144.2,370.6 148.6,370.6" stroke="#cf4a4a" stroke-width="0.62" fill="none" />
<polyline points="158,370.6 162.8,370.6" stroke="#cf4a4a" stroke-width="0.62" fill="none" />
<polyline points="148.6,365.2 148.6,375" stroke="#cf4a4a" stroke-width="0.8" fill="none" />
<polyline points="158,365.2 158,375" stroke="#cf4a4a" stroke-width="0.9" fill="none" />
<rect x="150.4" y="365.3" width="5.8" height="9.6" stroke="#c62f2f" stroke-width="0.95" fill="none"/>
<path d="M153.3 369.6l0.8 1-0.8 1-0.8-1z" fill="#c62f2f"/>
<polyline points="138.75,378.5 138.75,380.8" stroke="#cf4a4a" stroke-width="0.62" fill="none" />
<polyline points="138.75,383.3 138.75,385.8" stroke="#cf4a4a" stroke-width="0.62" fill="none" />
<polyline points="134.45,381.3 143.05,381.3" stroke="#c62f2f" stroke-width="1.1" fill="none" />
<polyline points="134.45,383.3 143.05,383.3" stroke="#c62f2f" stroke-width="1.1" fill="none" />
<polyline points="138.75,385.8 138.75,391.75" stroke="#35b085" stroke-width="0.66" fill="none" />
<polyline points="168,378.5 168,380.8" stroke="#cf4a4a" stroke-width="0.62" fill="none" />
<polyline points="168,383.3 168,385.8" stroke="#cf4a4a" stroke-width="0.62" fill="none" />
<polyline points="163.7,381.3 172.3,381.3" stroke="#c62f2f" stroke-width="1.1" fill="none" />
<polyline points="163.7,383.3 172.3,383.3" stroke="#c62f2f" stroke-width="1.1" fill="none" />
<polyline points="168,385.8 168,391.75" stroke="#35b085" stroke-width="0.66" fill="none" />
<polyline points="138.75,391.75 168,391.75" stroke="#35b085" stroke-width="0.66" fill="none" />
<circle cx="153.3" cy="391.75" r="1.25" fill="#22a877"/>
<polyline points="153.3,391.75 153.3,395.5" stroke="#35b085" stroke-width="0.66" fill="none" />
<polyline points="153.3,395.5 153.3,398.5" stroke="#cf4a4a" stroke-width="0.62" fill="none" />
<polyline points="149.6,398.5 157,398.5" stroke="#cf4a4a" stroke-width="0.8" fill="none" />
<polyline points="223.75,331.8 231.25,331.8" stroke="#35b085" stroke-width="0.66" fill="none" />
<polyline points="223.75,346.29 235.6,346.29" stroke="#35b085" stroke-width="0.66" fill="none" />
<polyline points="235.6,346.29 241.9,346.29" stroke="#cf4a4a" stroke-width="0.62" fill="none" />
<polyline points="244.2,346.29 250,346.29" stroke="#cf4a4a" stroke-width="0.62" fill="none" />
<polyline points="241.9,341.99 241.9,350.59" stroke="#c62f2f" stroke-width="1.2" fill="none" />
<polyline points="244.3,341.99 244.3,350.59" stroke="#c62f2f" stroke-width="1.2" fill="none" />
<polyline points="250,346.29 264.4,346.29" stroke="#35b085" stroke-width="0.66" fill="none" />
<circle cx="257.75" cy="346.29" r="1.25" fill="#22a877"/>
<polyline points="260,306.3 260,312" stroke="#cf4a4a" stroke-width="0.62" fill="none" />
<polyline points="257.3,310.6 260,306.3 262.7,310.6" stroke="#cf4a4a" stroke-width="0.62" fill="none" />
<polyline points="260,312 260,322.5 257.75,322.5" stroke="#35b085" stroke-width="0.66" fill="none" />
<polyline points="257.75,322.5 257.75,327" stroke="#cf4a4a" stroke-width="0.62" fill="none" />
<polyline points="257.75,327 259.85,327.72 255.65,329.15 259.85,330.58 255.65,332.02 259.85,333.45 255.65,334.88 257.75,335.6" stroke="#cf4a4a" stroke-width="0.8" fill="none" />
<polyline points="257.75,335.6 257.75,341" stroke="#cf4a4a" stroke-width="0.62" fill="none" />
<polyline points="257.75,341 257.75,346.29" stroke="#35b085" stroke-width="0.66" fill="none" />
<polyline points="257.75,346.29 257.75,356" stroke="#35b085" stroke-width="0.66" fill="none" />
<polyline points="257.75,356 257.75,363.2" stroke="#cf4a4a" stroke-width="0.62" fill="none" />
<polyline points="257.75,368.6 257.75,373.6" stroke="#cf4a4a" stroke-width="0.62" fill="none" />
<polyline points="256.6,362.6 258.9,369" stroke="#cf4a4a" stroke-width="0.7" fill="none" />
<polyline points="264.6,361.6 266.2,361.6 266.2,369 264.6,369" stroke="#cf4a4a" stroke-width="0.62" fill="none" />
<polyline points="266.2,365.3 258.4,365.3" stroke="#cf4a4a" stroke-width="0.7" fill="none" stroke-dasharray="1.2 0.8"/>
<polyline points="257.75,373.6 257.75,388.8" stroke="#35b085" stroke-width="0.66" fill="none" />
<polyline points="257.75,388.8 257.75,389.3" stroke="#cf4a4a" stroke-width="0.62" fill="none" />
<polyline points="254.05,389.3 261.45,389.3" stroke="#cf4a4a" stroke-width="0.8" fill="none" />
<rect x="332.5" y="300.5" width="49.25" height="62.3" stroke="#cf4a4a" stroke-width="0.8" fill="none"/>
<path d="M352.2 310h9.4M356.9 305.3v9.4" stroke="#999" stroke-width="0.6"/>
<circle cx="357" cy="329.3" r="0.7" fill="#cf4a4a"/>
<polyline points="323,305 332.5,305" stroke="#cf4a4a" stroke-width="0.62" fill="none" />
<polyline points="323,314.5 332.5,314.5" stroke="#cf4a4a" stroke-width="0.62" fill="none" />
<polyline points="323,319.3 332.5,319.3" stroke="#cf4a4a" stroke-width="0.62" fill="none" />
<polyline points="323,324.2 332.5,324.2" stroke="#cf4a4a" stroke-width="0.62" fill="none" />
<polyline points="323,329 332.5,329" stroke="#cf4a4a" stroke-width="0.62" fill="none" />
<polyline points="323,338.7 332.5,338.7" stroke="#cf4a4a" stroke-width="0.62" fill="none" />
<polyline points="323,343.5 332.5,343.5" stroke="#cf4a4a" stroke-width="0.62" fill="none" />
<polyline points="323,353.3 332.5,353.3" stroke="#cf4a4a" stroke-width="0.62" fill="none" />
<polyline points="323,358.1 332.5,358.1" stroke="#cf4a4a" stroke-width="0.62" fill="none" />
<polyline points="381.75,314.5 391.25,314.5" stroke="#cf4a4a" stroke-width="0.62" fill="none" />
<polyline points="381.75,319.3 391.25,319.3" stroke="#cf4a4a" stroke-width="0.62" fill="none" />
<polyline points="381.75,324.2 391.25,324.2" stroke="#cf4a4a" stroke-width="0.62" fill="none" />
<polyline points="381.75,329 391.25,329" stroke="#cf4a4a" stroke-width="0.62" fill="none" />
<polyline points="381.75,338.7 391.25,338.7" stroke="#cf4a4a" stroke-width="0.62" fill="none" />
<polyline points="381.75,343.5 391.25,343.5" stroke="#cf4a4a" stroke-width="0.62" fill="none" />
<polyline points="309.85,295.5 317.65,295.5" stroke="#cf4a4a" stroke-width="0.8" fill="none" />
<polyline points="313.75,295.5 313.75,300" stroke="#cf4a4a" stroke-width="0.62" fill="none" />
<polyline points="313.75,300 313.75,305.2 323,305.2" stroke="#35b085" stroke-width="0.66" fill="none" />
<polyline points="298.7,309.75 308.75,309.75 308.75,314.5 323,314.5" stroke="#35b085" stroke-width="0.66" fill="none" />
<polyline points="298.7,314.6 303.75,314.6 303.75,319.3 323,319.3" stroke="#35b085" stroke-width="0.66" fill="none" />
<polyline points="298.7,329 303.75,329 303.75,324.2 323,324.2" stroke="#35b085" stroke-width="0.66" fill="none" />
<polyline points="298.7,333.9 308.75,333.9 308.75,329 323,329" stroke="#35b085" stroke-width="0.66" fill="none" />
<polyline points="308,343.8 308,352.4" stroke="#cf4a4a" stroke-width="0.8" fill="none" />
<polyline points="308,348.1 312.5,348.1" stroke="#cf4a4a" stroke-width="0.62" fill="none" />
<polyline points="312.5,348.1 322.6,348.1 322.6,353.3 323,353.3" stroke="#35b085" stroke-width="0.66" fill="none" />
<polyline points="323,358.1 322.6,358.1 322.6,372 308.3,372" stroke="#35b085" stroke-width="0.66" fill="none" />
<polyline points="391.25,314.5 391.3,314.5 391.3,309.83 415.2,309.83" stroke="#35b085" stroke-width="0.66" fill="none" />
<polyline points="391.25,319.3 396.2,319.3 396.2,314.65 415.2,314.65" stroke="#35b085" stroke-width="0.66" fill="none" />
<polyline points="391.25,324.2 401.2,324.2 401.2,319.48 415.2,319.48" stroke="#35b085" stroke-width="0.66" fill="none" />
<polyline points="391.25,329 406.2,329 406.2,324.3 415.2,324.3" stroke="#35b085" stroke-width="0.66" fill="none" />
<polyline points="391.25,338.7 400.6,338.7 400.6,353.3" stroke="#35b085" stroke-width="0.66" fill="none" />
<polyline points="391.25,343.5 400.6,343.5" stroke="#35b085" stroke-width="0.66" fill="none" />
<circle cx="400.6" cy="343.5" r="1.25" fill="#22a877"/>
<polyline points="400.6,357.6 400.6,353.3" stroke="#cf4a4a" stroke-width="0.62" fill="none" />
<polyline points="399,355 400.6,357.6 402.2,355" stroke="#cf4a4a" stroke-width="0.62" fill="none" />
<g filter="url(#tb)" text-rendering="geometricPrecision">
<text transform="translate(425 47.2) rotate(0.4) scale(.1)" font-size="46" fill="#7e7e7e">U1</text>
<text transform="translate(425 348.6) rotate(0.4) scale(.1)" font-size="45" fill="#7e7e7e" textLength="345" lengthAdjust="spacingAndGlyphs">ATMEGA2560AU</text>
<text transform="translate(428.7 55.5) rotate(0.4) scale(.1)" font-size="40" fill="#7e7e7e">RESET</text>
<text transform="translate(420.3 53.2) rotate(0.4) scale(.1)" font-size="36" fill="#7e7e7e" text-anchor="end">29</text>
<text transform="translate(428.7 65.15) rotate(0.4) scale(.1)" font-size="40" fill="#7e7e7e">XTAL2</text>
<text transform="translate(420.3 62.85) rotate(0.4) scale(.1)" font-size="36" fill="#7e7e7e" text-anchor="end">33</text>
<text transform="translate(428.7 74.8) rotate(0.4) scale(.1)" font-size="40" fill="#7e7e7e">XTAL1</text>
<text transform="translate(420.3 72.5) rotate(0.4) scale(.1)" font-size="36" fill="#7e7e7e" text-anchor="end">34</text>
<text transform="translate(428.7 84.45) rotate(0.4) scale(.1)" font-size="40" fill="#7e7e7e">AREF</text>
<text transform="translate(420.3 82.15) rotate(0.4) scale(.1)" font-size="36" fill="#7e7e7e" text-anchor="end">98</text>
<text transform="translate(428.7 89.28) rotate(0.4) scale(.1)" font-size="40" fill="#7e7e7e">AVCC</text>
<text transform="translate(420.3 86.97) rotate(0.4) scale(.1)" font-size="36" fill="#7e7e7e" text-anchor="end">100</text>
<text transform="translate(428.7 94.1) rotate(0.4) scale(.1)" font-size="40" fill="#7e7e7e">AGND</text>
<text transform="translate(420.3 91.8) rotate(0.4) scale(.1)" font-size="36" fill="#7e7e7e" text-anchor="end">99</text>
<text transform="translate(428.7 108.58) rotate(0.4) scale(.1)" font-size="40" fill="#7e7e7e">VCC</text>
<text transform="translate(420.3 106.28) rotate(0.4) scale(.1)" font-size="36" fill="#7e7e7e" text-anchor="end">10</text>
<text transform="translate(428.7 113.4) rotate(0.4) scale(.1)" font-size="40" fill="#7e7e7e">VCC</text>
<text transform="translate(420.3 111.1) rotate(0.4) scale(.1)" font-size="36" fill="#7e7e7e" text-anchor="end">31</text>
<text transform="translate(428.7 118.23) rotate(0.4) scale(.1)" font-size="40" fill="#7e7e7e">VCC</text>
<text transform="translate(420.3 115.92) rotate(0.4) scale(.1)" font-size="36" fill="#7e7e7e" text-anchor="end">61</text>
<text transform="translate(428.7 123.05) rotate(0.4) scale(.1)" font-size="40" fill="#7e7e7e">VCC</text>
<text transform="translate(420.3 120.75) rotate(0.4) scale(.1)" font-size="36" fill="#7e7e7e" text-anchor="end">80</text>
<text transform="translate(428.7 127.88) rotate(0.4) scale(.1)" font-size="40" fill="#7e7e7e">GND</text>
<text transform="translate(420.3 125.57) rotate(0.4) scale(.1)" font-size="36" fill="#7e7e7e" text-anchor="end">11</text>
<text transform="translate(428.7 132.7) rotate(0.4) scale(.1)" font-size="40" fill="#7e7e7e">GND</text>
<text transform="translate(420.3 130.4) rotate(0.4) scale(.1)" font-size="36" fill="#7e7e7e" text-anchor="end">32</text>
<text transform="translate(428.7 137.53) rotate(0.4) scale(.1)" font-size="40" fill="#7e7e7e">GND</text>
<text transform="translate(420.3 135.22) rotate(0.4) scale(.1)" font-size="36" fill="#7e7e7e" text-anchor="end">62</text>
<text transform="translate(428.7 142.35) rotate(0.4) scale(.1)" font-size="40" fill="#7e7e7e">GND</text>
<text transform="translate(420.3 140.05) rotate(0.4) scale(.1)" font-size="36" fill="#7e7e7e" text-anchor="end">81</text>
<text transform="translate(428.7 176.12) rotate(0.4) scale(.1)" font-size="40" fill="#7e7e7e">PL7</text>
<text transform="translate(420.3 173.82) rotate(0.4) scale(.1)" font-size="36" fill="#7e7e7e" text-anchor="end">42</text>
<text transform="translate(428.7 180.95) rotate(0.4) scale(.1)" font-size="40" fill="#7e7e7e">PL6</text>
<text transform="translate(420.3 178.65) rotate(0.4) scale(.1)" font-size="36" fill="#7e7e7e" text-anchor="end">41</text>
<text transform="translate(428.7 185.78) rotate(0.4) scale(.1)" font-size="40" fill="#7e7e7e">PL5(OC5C)</text>
<text transform="translate(420.3 183.47) rotate(0.4) scale(.1)" font-size="36" fill="#7e7e7e" text-anchor="end">40</text>
<text transform="translate(428.7 190.6) rotate(0.4) scale(.1)" font-size="40" fill="#7e7e7e">PL4(OC5B)</text>
<text transform="translate(420.3 188.3) rotate(0.4) scale(.1)" font-size="36" fill="#7e7e7e" text-anchor="end">39</text>
<text transform="translate(428.7 195.43) rotate(0.4) scale(.1)" font-size="40" fill="#7e7e7e">PL3(OC5A)</text>
<text transform="translate(420.3 193.12) rotate(0.4) scale(.1)" font-size="36" fill="#7e7e7e" text-anchor="end">38</text>
<text transform="translate(428.7 200.25) rotate(0.4) scale(.1)" font-size="40" fill="#7e7e7e">PL2(T5)</text>
<text transform="translate(420.3 197.95) rotate(0.4) scale(.1)" font-size="36" fill="#7e7e7e" text-anchor="end">37</text>
<text transform="translate(428.7 205.08) rotate(0.4) scale(.1)" font-size="40" fill="#7e7e7e">PL1(ICP5)</text>
<text transform="translate(420.3 202.78) rotate(0.4) scale(.1)" font-size="36" fill="#7e7e7e" text-anchor="end">36</text>
<text transform="translate(428.7 209.9) rotate(0.4) scale(.1)" font-size="40" fill="#7e7e7e">PL0(ICP4)</text>
<text transform="translate(420.3 207.6) rotate(0.4) scale(.1)" font-size="36" fill="#7e7e7e" text-anchor="end">35</text>
<text transform="translate(428.7 219.55) rotate(0.4) scale(.1)" font-size="40" fill="#7e7e7e">PK7(ADC15/PCINT23)</text>
<text transform="translate(420.3 217.25) rotate(0.4) scale(.1)" font-size="36" fill="#7e7e7e" text-anchor="end">82</text>
<text transform="translate(428.7 224.38) rotate(0.4) scale(.1)" font-size="40" fill="#7e7e7e">PK6(ADC14/PCINT22)</text>
<text transform="translate(420.3 222.07) rotate(0.4) scale(.1)" font-size="36" fill="#7e7e7e" text-anchor="end">83</text>
<text transform="translate(428.7 229.2) rotate(0.4) scale(.1)" font-size="40" fill="#7e7e7e">PK5(ADC13/PCINT21)</text>
<text transform="translate(420.3 226.9) rotate(0.4) scale(.1)" font-size="36" fill="#7e7e7e" text-anchor="end">84</text>
<text transform="translate(428.7 234.03) rotate(0.4) scale(.1)" font-size="40" fill="#7e7e7e">PK4(ADC12/PCINT20)</text>
<text transform="translate(420.3 231.72) rotate(0.4) scale(.1)" font-size="36" fill="#7e7e7e" text-anchor="end">85</text>
<text transform="translate(428.7 238.85) rotate(0.4) scale(.1)" font-size="40" fill="#7e7e7e">PK3(ADC11/PCINT19)</text>
<text transform="translate(420.3 236.55) rotate(0.4) scale(.1)" font-size="36" fill="#7e7e7e" text-anchor="end">86</text>
<text transform="translate(428.7 243.68) rotate(0.4) scale(.1)" font-size="40" fill="#7e7e7e">PK2(ADC10/PCINT18)</text>
<text transform="translate(420.3 241.38) rotate(0.4) scale(.1)" font-size="36" fill="#7e7e7e" text-anchor="end">87</text>
<text transform="translate(428.7 248.5) rotate(0.4) scale(.1)" font-size="40" fill="#7e7e7e">PK1(ADC9/PCINT17)</text>
<text transform="translate(420.3 246.2) rotate(0.4) scale(.1)" font-size="36" fill="#7e7e7e" text-anchor="end">88</text>
<text transform="translate(428.7 253.33) rotate(0.4) scale(.1)" font-size="40" fill="#7e7e7e">PK0(ADC8/PCINT16)</text>
<text transform="translate(420.3 251.03) rotate(0.4) scale(.1)" font-size="36" fill="#7e7e7e" text-anchor="end">89</text>
<text transform="translate(428.7 262.97) rotate(0.4) scale(.1)" font-size="40" fill="#7e7e7e">PJ7</text>
<text transform="translate(420.3 260.68) rotate(0.4) scale(.1)" font-size="36" fill="#7e7e7e" text-anchor="end">79</text>
<text transform="translate(428.7 267.8) rotate(0.4) scale(.1)" font-size="40" fill="#7e7e7e">PJ6(PCINT15)</text>
<text transform="translate(420.3 265.5) rotate(0.4) scale(.1)" font-size="36" fill="#7e7e7e" text-anchor="end">69</text>
<text transform="translate(428.7 272.62) rotate(0.4) scale(.1)" font-size="40" fill="#7e7e7e">PJ5(PCINT14)</text>
<text transform="translate(420.3 270.33) rotate(0.4) scale(.1)" font-size="36" fill="#7e7e7e" text-anchor="end">68</text>
<text transform="translate(428.7 277.45) rotate(0.4) scale(.1)" font-size="40" fill="#7e7e7e">PJ4(PCINT13)</text>
<text transform="translate(420.3 275.15) rotate(0.4) scale(.1)" font-size="36" fill="#7e7e7e" text-anchor="end">67</text>
<text transform="translate(428.7 282.27) rotate(0.4) scale(.1)" font-size="40" fill="#7e7e7e">PJ3(PCINT12)</text>
<text transform="translate(420.3 279.98) rotate(0.4) scale(.1)" font-size="36" fill="#7e7e7e" text-anchor="end">66</text>
<text transform="translate(428.7 287.1) rotate(0.4) scale(.1)" font-size="40" fill="#7e7e7e">PJ2(XCK3/PCINT11)</text>
<text transform="translate(420.3 284.8) rotate(0.4) scale(.1)" font-size="36" fill="#7e7e7e" text-anchor="end">65</text>
<text transform="translate(428.7 291.93) rotate(0.4) scale(.1)" font-size="40" fill="#7e7e7e">PJ1(TXD3/PCINT10)</text>
<text transform="translate(420.3 289.63) rotate(0.4) scale(.1)" font-size="36" fill="#7e7e7e" text-anchor="end">64</text>
<text transform="translate(428.7 296.75) rotate(0.4) scale(.1)" font-size="40" fill="#7e7e7e">PJ0(RXD3/PCINT9)</text>
<text transform="translate(420.3 294.45) rotate(0.4) scale(.1)" font-size="36" fill="#7e7e7e" text-anchor="end">63</text>
<text transform="translate(428.7 306.4) rotate(0.4) scale(.1)" font-size="40" fill="#7e7e7e">PH7(T4)</text>
<text transform="translate(420.3 304.1) rotate(0.4) scale(.1)" font-size="36" fill="#7e7e7e" text-anchor="end">27</text>
<text transform="translate(428.7 311.23) rotate(0.4) scale(.1)" font-size="40" fill="#7e7e7e">PH6(OC2B)</text>
<text transform="translate(420.3 308.93) rotate(0.4) scale(.1)" font-size="36" fill="#7e7e7e" text-anchor="end">18</text>
<text transform="translate(428.7 316.05) rotate(0.4) scale(.1)" font-size="40" fill="#7e7e7e">PH5(OC4C)</text>
<text transform="translate(420.3 313.75) rotate(0.4) scale(.1)" font-size="36" fill="#7e7e7e" text-anchor="end">17</text>
<text transform="translate(428.7 320.88) rotate(0.4) scale(.1)" font-size="40" fill="#7e7e7e">PH4(OC4B)</text>
<text transform="translate(420.3 318.58) rotate(0.4) scale(.1)" font-size="36" fill="#7e7e7e" text-anchor="end">16</text>
<text transform="translate(428.7 325.7) rotate(0.4) scale(.1)" font-size="40" fill="#7e7e7e">PH3(OC4A)</text>
<text transform="translate(420.3 323.4) rotate(0.4) scale(.1)" font-size="36" fill="#7e7e7e" text-anchor="end">15</text>
<text transform="translate(428.7 330.53) rotate(0.4) scale(.1)" font-size="40" fill="#7e7e7e">PH2(XCK2)</text>
<text transform="translate(420.3 328.23) rotate(0.4) scale(.1)" font-size="36" fill="#7e7e7e" text-anchor="end">14</text>
<text transform="translate(428.7 335.35) rotate(0.4) scale(.1)" font-size="40" fill="#7e7e7e">PH1(TXD2)</text>
<text transform="translate(420.3 333.05) rotate(0.4) scale(.1)" font-size="36" fill="#7e7e7e" text-anchor="end">13</text>
<text transform="translate(428.7 340.18) rotate(0.4) scale(.1)" font-size="40" fill="#7e7e7e">PH0(RXD2)</text>
<text transform="translate(420.3 337.88) rotate(0.4) scale(.1)" font-size="36" fill="#7e7e7e" text-anchor="end">12</text>
<text transform="translate(536.5 55.5) rotate(0.4) scale(.1)" font-size="40" fill="#7e7e7e" text-anchor="end">(AD7)PA7</text>
<text transform="translate(544.6 53.2) rotate(0.4) scale(.1)" font-size="36" fill="#7e7e7e">71</text>
<text transform="translate(536.5 60.33) rotate(0.4) scale(.1)" font-size="40" fill="#7e7e7e" text-anchor="end">(AD6)PA6</text>
<text transform="translate(544.6 58.03) rotate(0.4) scale(.1)" font-size="36" fill="#7e7e7e">72</text>
<text transform="translate(536.5 65.15) rotate(0.4) scale(.1)" font-size="40" fill="#7e7e7e" text-anchor="end">(AD5)PA5</text>
<text transform="translate(544.6 62.85) rotate(0.4) scale(.1)" font-size="36" fill="#7e7e7e">73</text>
<text transform="translate(536.5 69.98) rotate(0.4) scale(.1)" font-size="40" fill="#7e7e7e" text-anchor="end">(AD4)PA4</text>
<text transform="translate(544.6 67.67) rotate(0.4) scale(.1)" font-size="36" fill="#7e7e7e">74</text>
<text transform="translate(536.5 74.8) rotate(0.4) scale(.1)" font-size="40" fill="#7e7e7e" text-anchor="end">(AD3)PA3</text>
<text transform="translate(544.6 72.5) rotate(0.4) scale(.1)" font-size="36" fill="#7e7e7e">75</text>
<text transform="translate(536.5 79.62) rotate(0.4) scale(.1)" font-size="40" fill="#7e7e7e" text-anchor="end">(AD2)PA2</text>
<text transform="translate(544.6 77.32) rotate(0.4) scale(.1)" font-size="36" fill="#7e7e7e">76</text>
<text transform="translate(536.5 84.45) rotate(0.4) scale(.1)" font-size="40" fill="#7e7e7e" text-anchor="end">(AD1)PA1</text>
<text transform="translate(544.6 82.15) rotate(0.4) scale(.1)" font-size="36" fill="#7e7e7e">77</text>
<text transform="translate(536.5 89.28) rotate(0.4) scale(.1)" font-size="40" fill="#7e7e7e" text-anchor="end">(AD0)PA0</text>
<text transform="translate(544.6 86.97) rotate(0.4) scale(.1)" font-size="36" fill="#7e7e7e">78</text>
<text transform="translate(536.5 98.93) rotate(0.4) scale(.1)" font-size="40" fill="#7e7e7e" text-anchor="end">(OC0A/OC1C/PCINT7)PB7</text>
<text transform="translate(544.6 96.62) rotate(0.4) scale(.1)" font-size="36" fill="#7e7e7e">26</text>
<text transform="translate(536.5 103.75) rotate(0.4) scale(.1)" font-size="40" fill="#7e7e7e" text-anchor="end">(OC1B/PCINT6)PB6</text>
<text transform="translate(544.6 101.45) rotate(0.4) scale(.1)" font-size="36" fill="#7e7e7e">25</text>
<text transform="translate(536.5 108.58) rotate(0.4) scale(.1)" font-size="40" fill="#7e7e7e" text-anchor="end">(OC1A/PCINT5)PB5</text>
<text transform="translate(544.6 106.28) rotate(0.4) scale(.1)" font-size="36" fill="#7e7e7e">24</text>
<text transform="translate(536.5 113.4) rotate(0.4) scale(.1)" font-size="40" fill="#7e7e7e" text-anchor="end">(OC2A/PCINT4)PB4</text>
<text transform="translate(544.6 111.1) rotate(0.4) scale(.1)" font-size="36" fill="#7e7e7e">23</text>
<text transform="translate(536.5 118.23) rotate(0.4) scale(.1)" font-size="40" fill="#7e7e7e" text-anchor="end">(MISO/PCINT3)PB3</text>
<text transform="translate(544.6 115.92) rotate(0.4) scale(.1)" font-size="36" fill="#7e7e7e">22</text>
<text transform="translate(536.5 123.05) rotate(0.4) scale(.1)" font-size="40" fill="#7e7e7e" text-anchor="end">(MOSI/PCINT2)PB2</text>
<text transform="translate(544.6 120.75) rotate(0.4) scale(.1)" font-size="36" fill="#7e7e7e">21</text>
<text transform="translate(536.5 127.88) rotate(0.4) scale(.1)" font-size="40" fill="#7e7e7e" text-anchor="end">(SCK/PCINT1)PB1</text>
<text transform="translate(544.6 125.57) rotate(0.4) scale(.1)" font-size="36" fill="#7e7e7e">20</text>
<text transform="translate(536.5 132.7) rotate(0.4) scale(.1)" font-size="40" fill="#7e7e7e" text-anchor="end">(SS/PCINT0)PB0</text>
<text transform="translate(544.6 130.4) rotate(0.4) scale(.1)" font-size="36" fill="#7e7e7e">19</text>
<text transform="translate(536.5 142.35) rotate(0.4) scale(.1)" font-size="40" fill="#7e7e7e" text-anchor="end">(A15)PC7</text>
<text transform="translate(544.6 140.05) rotate(0.4) scale(.1)" font-size="36" fill="#7e7e7e">60</text>
<text transform="translate(536.5 147.18) rotate(0.4) scale(.1)" font-size="40" fill="#7e7e7e" text-anchor="end">(A14)PC6</text>
<text transform="translate(544.6 144.88) rotate(0.4) scale(.1)" font-size="36" fill="#7e7e7e">59</text>
<text transform="translate(536.5 152) rotate(0.4) scale(.1)" font-size="40" fill="#7e7e7e" text-anchor="end">(A13)PC5</text>
<text transform="translate(544.6 149.7) rotate(0.4) scale(.1)" font-size="36" fill="#7e7e7e">58</text>
<text transform="translate(536.5 156.83) rotate(0.4) scale(.1)" font-size="40" fill="#7e7e7e" text-anchor="end">(A12)PC4</text>
<text transform="translate(544.6 154.53) rotate(0.4) scale(.1)" font-size="36" fill="#7e7e7e">57</text>
<text transform="translate(536.5 161.65) rotate(0.4) scale(.1)" font-size="40" fill="#7e7e7e" text-anchor="end">(A11)PC3</text>
<text transform="translate(544.6 159.35) rotate(0.4) scale(.1)" font-size="36" fill="#7e7e7e">56</text>
<text transform="translate(536.5 166.48) rotate(0.4) scale(.1)" font-size="40" fill="#7e7e7e" text-anchor="end">(A10)PC2</text>
<text transform="translate(544.6 164.18) rotate(0.4) scale(.1)" font-size="36" fill="#7e7e7e">55</text>
<text transform="translate(536.5 171.3) rotate(0.4) scale(.1)" font-size="40" fill="#7e7e7e" text-anchor="end">(A9)PC1</text>
<text transform="translate(544.6 169) rotate(0.4) scale(.1)" font-size="36" fill="#7e7e7e">54</text>
<text transform="translate(536.5 176.12) rotate(0.4) scale(.1)" font-size="40" fill="#7e7e7e" text-anchor="end">(A8)PC0</text>
<text transform="translate(544.6 173.82) rotate(0.4) scale(.1)" font-size="36" fill="#7e7e7e">53</text>
<text transform="translate(536.5 185.78) rotate(0.4) scale(.1)" font-size="40" fill="#7e7e7e" text-anchor="end">(T0)PD7</text>
<text transform="translate(544.6 183.47) rotate(0.4) scale(.1)" font-size="36" fill="#7e7e7e">50</text>
<text transform="translate(536.5 190.6) rotate(0.4) scale(.1)" font-size="40" fill="#7e7e7e" text-anchor="end">(T1)PD6</text>
<text transform="translate(544.6 188.3) rotate(0.4) scale(.1)" font-size="36" fill="#7e7e7e">49</text>
<text transform="translate(536.5 195.43) rotate(0.4) scale(.1)" font-size="40" fill="#7e7e7e" text-anchor="end">(XCK1)PD5</text>
<text transform="translate(544.6 193.12) rotate(0.4) scale(.1)" font-size="36" fill="#7e7e7e">48</text>
<text transform="translate(536.5 200.25) rotate(0.4) scale(.1)" font-size="40" fill="#7e7e7e" text-anchor="end">(ICP1)PD4</text>
<text transform="translate(544.6 197.95) rotate(0.4) scale(.1)" font-size="36" fill="#7e7e7e">47</text>
<text transform="translate(536.5 205.08) rotate(0.4) scale(.1)" font-size="40" fill="#7e7e7e" text-anchor="end">(TXD1/INT3)PD3</text>
<text transform="translate(544.6 202.78) rotate(0.4) scale(.1)" font-size="36" fill="#7e7e7e">46</text>
<text transform="translate(536.5 209.9) rotate(0.4) scale(.1)" font-size="40" fill="#7e7e7e" text-anchor="end">(RXD1/INT2)PD2</text>
<text transform="translate(544.6 207.6) rotate(0.4) scale(.1)" font-size="36" fill="#7e7e7e">45</text>
<text transform="translate(536.5 214.72) rotate(0.4) scale(.1)" font-size="40" fill="#7e7e7e" text-anchor="end">(SDA/INT1)PD1</text>
<text transform="translate(544.6 212.42) rotate(0.4) scale(.1)" font-size="36" fill="#7e7e7e">44</text>
<text transform="translate(536.5 219.55) rotate(0.4) scale(.1)" font-size="40" fill="#7e7e7e" text-anchor="end">(SCL/INT0)PD0</text>
<text transform="translate(544.6 217.25) rotate(0.4) scale(.1)" font-size="36" fill="#7e7e7e">43</text>
<text transform="translate(536.5 229.2) rotate(0.4) scale(.1)" font-size="40" fill="#7e7e7e" text-anchor="end">(CLKO/ICP3/INT7)PE7</text>
<text transform="translate(544.6 226.9) rotate(0.4) scale(.1)" font-size="36" fill="#7e7e7e">9</text>
<text transform="translate(536.5 234.03) rotate(0.4) scale(.1)" font-size="40" fill="#7e7e7e" text-anchor="end">(T3/INT6)PE6</text>
<text transform="translate(544.6 231.72) rotate(0.4) scale(.1)" font-size="36" fill="#7e7e7e">8</text>
<text transform="translate(536.5 238.85) rotate(0.4) scale(.1)" font-size="40" fill="#7e7e7e" text-anchor="end">(OC3C/INT5)PE5</text>
<text transform="translate(544.6 236.55) rotate(0.4) scale(.1)" font-size="36" fill="#7e7e7e">7</text>
<text transform="translate(536.5 243.68) rotate(0.4) scale(.1)" font-size="40" fill="#7e7e7e" text-anchor="end">(OC3B/INT4)PE4</text>
<text transform="translate(544.6 241.38) rotate(0.4) scale(.1)" font-size="36" fill="#7e7e7e">6</text>
<text transform="translate(536.5 248.5) rotate(0.4) scale(.1)" font-size="40" fill="#7e7e7e" text-anchor="end">(OC3A/AIN1)PE3</text>
<text transform="translate(544.6 246.2) rotate(0.4) scale(.1)" font-size="36" fill="#7e7e7e">5</text>
<text transform="translate(536.5 253.33) rotate(0.4) scale(.1)" font-size="40" fill="#7e7e7e" text-anchor="end">(XCK0/AIN0)PE2</text>
<text transform="translate(544.6 251.03) rotate(0.4) scale(.1)" font-size="36" fill="#7e7e7e">4</text>
<text transform="translate(536.5 258.15) rotate(0.4) scale(.1)" font-size="40" fill="#7e7e7e" text-anchor="end">(TXD0)PE1</text>
<text transform="translate(544.6 255.85) rotate(0.4) scale(.1)" font-size="36" fill="#7e7e7e">3</text>
<text transform="translate(536.5 262.97) rotate(0.4) scale(.1)" font-size="40" fill="#7e7e7e" text-anchor="end">(RXD0/PCIN8)PE0</text>
<text transform="translate(544.6 260.68) rotate(0.4) scale(.1)" font-size="36" fill="#7e7e7e">2</text>
<text transform="translate(536.5 272.62) rotate(0.4) scale(.1)" font-size="40" fill="#7e7e7e" text-anchor="end">(ADC7/TDI)PF7</text>
<text transform="translate(544.6 270.33) rotate(0.4) scale(.1)" font-size="36" fill="#7e7e7e">90</text>
<text transform="translate(536.5 277.45) rotate(0.4) scale(.1)" font-size="40" fill="#7e7e7e" text-anchor="end">(ADC6/TDO)PF6</text>
<text transform="translate(544.6 275.15) rotate(0.4) scale(.1)" font-size="36" fill="#7e7e7e">91</text>
<text transform="translate(536.5 282.27) rotate(0.4) scale(.1)" font-size="40" fill="#7e7e7e" text-anchor="end">(ADC5/TMS)PF5</text>
<text transform="translate(544.6 279.98) rotate(0.4) scale(.1)" font-size="36" fill="#7e7e7e">92</text>
<text transform="translate(536.5 287.1) rotate(0.4) scale(.1)" font-size="40" fill="#7e7e7e" text-anchor="end">(ADC4/TCK)PF4</text>
<text transform="translate(544.6 284.8) rotate(0.4) scale(.1)" font-size="36" fill="#7e7e7e">93</text>
<text transform="translate(536.5 291.93) rotate(0.4) scale(.1)" font-size="40" fill="#7e7e7e" text-anchor="end">(ADC3)PF3</text>
<text transform="translate(544.6 289.63) rotate(0.4) scale(.1)" font-size="36" fill="#7e7e7e">94</text>
<text transform="translate(536.5 296.75) rotate(0.4) scale(.1)" font-size="40" fill="#7e7e7e" text-anchor="end">(ADC2)PF2</text>
<text transform="translate(544.6 294.45) rotate(0.4) scale(.1)" font-size="36" fill="#7e7e7e">95</text>
<text transform="translate(536.5 301.57) rotate(0.4) scale(.1)" font-size="40" fill="#7e7e7e" text-anchor="end">(ADC1)PF1</text>
<text transform="translate(544.6 299.28) rotate(0.4) scale(.1)" font-size="36" fill="#7e7e7e">96</text>
<text transform="translate(536.5 306.4) rotate(0.4) scale(.1)" font-size="40" fill="#7e7e7e" text-anchor="end">(ADC0)PF0</text>
<text transform="translate(544.6 304.1) rotate(0.4) scale(.1)" font-size="36" fill="#7e7e7e">97</text>
<text transform="translate(536.5 316.05) rotate(0.4) scale(.1)" font-size="40" fill="#7e7e7e" text-anchor="end">(OC0B)PG5</text>
<text transform="translate(544.6 313.75) rotate(0.4) scale(.1)" font-size="36" fill="#7e7e7e">1</text>
<text transform="translate(536.5 320.88) rotate(0.4) scale(.1)" font-size="40" fill="#7e7e7e" text-anchor="end">(TOSC1)PG4</text>
<text transform="translate(544.6 318.58) rotate(0.4) scale(.1)" font-size="36" fill="#7e7e7e">29</text>
<text transform="translate(536.5 325.7) rotate(0.4) scale(.1)" font-size="40" fill="#7e7e7e" text-anchor="end">(TOSC2)PG3</text>
<text transform="translate(544.6 323.4) rotate(0.4) scale(.1)" font-size="36" fill="#7e7e7e">28</text>
<text transform="translate(536.5 330.53) rotate(0.4) scale(.1)" font-size="40" fill="#7e7e7e" text-anchor="end">(ALE)PG2</text>
<text transform="translate(544.6 328.23) rotate(0.4) scale(.1)" font-size="36" fill="#7e7e7e">70</text>
<text transform="translate(536.5 335.35) rotate(0.4) scale(.1)" font-size="40" fill="#7e7e7e" text-anchor="end">(RD)PG1</text>
<text transform="translate(544.6 333.05) rotate(0.4) scale(.1)" font-size="36" fill="#7e7e7e">52</text>
<text transform="translate(536.5 340.18) rotate(0.4) scale(.1)" font-size="40" fill="#7e7e7e" text-anchor="end">(WR)PG0</text>
<text transform="translate(544.6 337.88) rotate(0.4) scale(.1)" font-size="36" fill="#7e7e7e">51</text>
<text transform="translate(381.2 14.7) rotate(0.4) scale(.1)" font-size="47.5" fill="#7e7e7e">VCC</text>
<text transform="translate(391.6 41) rotate(-89.6) scale(.1)" font-size="47" fill="#7e7e7e">R2</text>
<text transform="translate(350.6 44.2) rotate(0.4) scale(.1)" font-size="45" fill="#7e7e7e">S9</text>
<text transform="translate(360.6 49.6) rotate(0.4) scale(.1)" font-size="47" fill="#7e7e7e">DTSM-3</text>
<text transform="translate(346.5 55.2) rotate(0.4) scale(.1)" font-size="33" fill="#7e7e7e">1</text>
<text transform="translate(360 55.2) rotate(0.4) scale(.1)" font-size="33" fill="#7e7e7e">2</text>
<text transform="translate(337 81.7) rotate(0.4) scale(.1)" font-size="47.5" fill="#7e7e7e">GND</text>
<text transform="translate(381.2 72.8) rotate(0.4) scale(.1)" font-size="47.5" fill="#7e7e7e">VCC</text>
<text transform="translate(395 110.4) rotate(0.4) scale(.1)" font-size="47.5" fill="#7e7e7e">GND</text>
<text transform="translate(371.3 154.7) rotate(0.4) scale(.1)" font-size="47.5" fill="#7e7e7e">GND</text>
<text transform="translate(568.8 24.2) rotate(0.4) scale(.1)" font-size="47.5" fill="#7e7e7e">GND</text>
<text transform="translate(580.8 51.5) rotate(-89.6) scale(.1)" font-size="47" fill="#7e7e7e">R18</text>
<text transform="translate(569.4 92) rotate(0.4) scale(.1)" font-size="47.5" fill="#7e7e7e">GND</text>
<text transform="translate(580.8 75.5) rotate(-89.6) scale(.1)" font-size="47" fill="#7e7e7e">R17</text>
<text transform="translate(588.8 57.23) rotate(0.4) scale(.1)" font-size="47" fill="#7e7e7e" textLength="113" lengthAdjust="spacingAndGlyphs">SPST</text>
<text transform="translate(592 64.43) rotate(0.4) scale(.1)" font-size="47" fill="#7e7e7e" textLength="52" lengthAdjust="spacingAndGlyphs">S1</text>
<text transform="translate(588.8 71.7) rotate(0.4) scale(.1)" font-size="47" fill="#7e7e7e" textLength="113" lengthAdjust="spacingAndGlyphs">SPST</text>
<text transform="translate(592 78.9) rotate(0.4) scale(.1)" font-size="47" fill="#7e7e7e" textLength="52" lengthAdjust="spacingAndGlyphs">S3</text>
<text transform="translate(588.8 86.17) rotate(0.4) scale(.1)" font-size="47" fill="#7e7e7e" textLength="113" lengthAdjust="spacingAndGlyphs">SPST</text>
<text transform="translate(592 93.38) rotate(0.4) scale(.1)" font-size="47" fill="#7e7e7e" textLength="52" lengthAdjust="spacingAndGlyphs">S5</text>
<text transform="translate(608 101.3) rotate(0.4) scale(.1)" font-size="47.5" fill="#7e7e7e">VCC</text>
<text transform="translate(593.7 135.2) rotate(0.4) scale(.1)" font-size="47.5" fill="#7e7e7e">GND</text>
<text transform="translate(604.6 109.5) rotate(-89.6) scale(.1)" font-size="47" fill="#7e7e7e">R13</text>
<text transform="translate(551.2 96.73) rotate(0.4) scale(.1)" font-size="40" fill="#7e7e7e">S4</text>
<text transform="translate(551.2 101.55) rotate(0.4) scale(.1)" font-size="40" fill="#7e7e7e">S3</text>
<text transform="translate(551.2 106.38) rotate(0.4) scale(.1)" font-size="40" fill="#7e7e7e">S2</text>
<text transform="translate(551.2 111.2) rotate(0.4) scale(.1)" font-size="40" fill="#7e7e7e">S1</text>
<text transform="translate(556 203.38) rotate(0.4) scale(.1)" font-size="40" fill="#7e7e7e">TX</text>
<text transform="translate(556 208.2) rotate(0.4) scale(.1)" font-size="40" fill="#7e7e7e">RX</text>
<text transform="translate(656.8 146.9) rotate(0.4) scale(.1)" font-size="39" fill="#7e7e7e">SDA</text>
<text transform="translate(645.6 144.7) rotate(0.4) scale(.1)" font-size="36" fill="#7e7e7e">4</text>
<text transform="translate(656.8 151.75) rotate(0.4) scale(.1)" font-size="39" fill="#7e7e7e">SCL</text>
<text transform="translate(645.6 149.55) rotate(0.4) scale(.1)" font-size="36" fill="#7e7e7e">3</text>
<text transform="translate(656.8 156.6) rotate(0.4) scale(.1)" font-size="39" fill="#7e7e7e">VCC</text>
<text transform="translate(645.6 154.4) rotate(0.4) scale(.1)" font-size="36" fill="#7e7e7e">2</text>
<text transform="translate(656.8 161.45) rotate(0.4) scale(.1)" font-size="39" fill="#7e7e7e">GND</text>
<text transform="translate(645.6 159.25) rotate(0.4) scale(.1)" font-size="36" fill="#7e7e7e">1</text>
<text transform="translate(686.2 147.4) rotate(-89.6) scale(.1)" font-size="54" fill="#cf4a4a" textLength="115" lengthAdjust="spacingAndGlyphs">OLED</text>
<text transform="translate(692 150.4) rotate(-89.6) scale(.1)" font-size="47" fill="#cf4a4a" textLength="139" lengthAdjust="spacingAndGlyphs">128x64</text>
<text transform="translate(656.2 122.3) rotate(-89.6) scale(.1)" font-size="42" fill="#7e7e7e">U$2</text>
<text transform="translate(661.6 122.8) rotate(-89.6) scale(.1)" font-size="47.5" fill="#7e7e7e" textLength="610" lengthAdjust="spacingAndGlyphs">DISPLAY-OLED-128X64-I2C</text>
<text transform="translate(608 168.8) rotate(0.4) scale(.1)" font-size="47.5" fill="#7e7e7e">VCC</text>
<text transform="translate(632.3 168.8) rotate(0.4) scale(.1)" font-size="47.5" fill="#7e7e7e">GND</text>
<text transform="translate(633.2 198.6) rotate(0.4) scale(.1)" font-size="46" fill="#7e7e7e">U$1</text>
<text transform="translate(632.6 203.7) rotate(0.4) scale(.1)" font-size="47.5" fill="#7e7e7e" textLength="540" lengthAdjust="spacingAndGlyphs">WIRELESS-WIFI-ESP-01</text>
<text transform="translate(690.8 245.4) rotate(-89.6) scale(.1)" font-size="72" fill="#cf4a4a" textLength="312" lengthAdjust="spacingAndGlyphs">ANTENNA</text>
<text transform="translate(637.2 214.5) rotate(0.4) scale(.1)" font-size="38" fill="#7e7e7e">GND</text>
<text transform="translate(625 212.3) rotate(0.4) scale(.1)" font-size="35" fill="#7e7e7e">1</text>
<text transform="translate(637.2 219.36) rotate(0.4) scale(.1)" font-size="38" fill="#7e7e7e">UTXD</text>
<text transform="translate(625 217.16) rotate(0.4) scale(.1)" font-size="35" fill="#7e7e7e">2</text>
<text transform="translate(637.2 224.22) rotate(0.4) scale(.1)" font-size="38" fill="#7e7e7e">GPIO2</text>
<text transform="translate(625 222.02) rotate(0.4) scale(.1)" font-size="35" fill="#7e7e7e">3</text>
<text transform="translate(637.2 229.08) rotate(0.4) scale(.1)" font-size="38" fill="#7e7e7e">CH_PD</text>
<text transform="translate(625 226.88) rotate(0.4) scale(.1)" font-size="35" fill="#7e7e7e">4</text>
<text transform="translate(637.2 233.94) rotate(0.4) scale(.1)" font-size="38" fill="#7e7e7e">GPIO0</text>
<text transform="translate(625 231.74) rotate(0.4) scale(.1)" font-size="35" fill="#7e7e7e">5</text>
<text transform="translate(637.2 238.8) rotate(0.4) scale(.1)" font-size="38" fill="#7e7e7e">RST</text>
<text transform="translate(625 236.6) rotate(0.4) scale(.1)" font-size="35" fill="#7e7e7e">6</text>
<text transform="translate(637.2 243.66) rotate(0.4) scale(.1)" font-size="38" fill="#7e7e7e">URXD</text>
<text transform="translate(625 241.46) rotate(0.4) scale(.1)" font-size="35" fill="#7e7e7e">7</text>
<text transform="translate(637.2 248.52) rotate(0.4) scale(.1)" font-size="38" fill="#7e7e7e">VCC</text>
<text transform="translate(625 246.32) rotate(0.4) scale(.1)" font-size="35" fill="#7e7e7e">8</text>
<text transform="translate(607.4 213.6) rotate(-89.6) scale(.1)" font-size="46" fill="#7e7e7e">GND</text>
<text transform="translate(608 228.3) rotate(0.4) scale(.1)" font-size="47.5" fill="#7e7e7e">3.3V</text>
<text transform="translate(583.2 233.4) rotate(-89.6) scale(.1)" font-size="46" fill="#7e7e7e">GND</text>
<text transform="translate(603 245.6) rotate(0.4) scale(.1)" font-size="47" fill="#7e7e7e">R9</text>
<text transform="translate(561.2 250.5) rotate(0.4) scale(.1)" font-size="47" fill="#7e7e7e">R10*</text>
<text transform="translate(612.8 251.4) rotate(0.4) scale(.1)" font-size="47.5" fill="#7e7e7e">3.3V</text>
<text transform="translate(570.4 322.4) rotate(-89.6) scale(.1)" font-size="42" fill="#7e7e7e">Y1</text>
<text transform="translate(582.4 327) rotate(-89.6) scale(.1)" font-size="45" fill="#7e7e7e">16MHz</text>
<text transform="translate(578 294.5) rotate(-89.6) scale(.1)" font-size="47" fill="#7e7e7e">C27</text>
<text transform="translate(583.6 338.5) rotate(-89.6) scale(.1)" font-size="47" fill="#7e7e7e">C28</text>
<text transform="translate(603 328.4) rotate(0.4) scale(.1)" font-size="47.5" fill="#7e7e7e">GND</text>
<text transform="translate(32 174.5) rotate(0.4) scale(.1)" font-size="41" fill="#7e7e7e" textLength="280" lengthAdjust="spacingAndGlyphs">POWER_JACK</text>
<text transform="translate(78 172.8) rotate(0.4) scale(.1)" font-size="33" fill="#7e7e7e">2</text>
<text transform="translate(32 195) rotate(0.4) scale(.1)" font-size="42" fill="#7e7e7e">J1</text>
<text transform="translate(63.2 211.8) rotate(-89.6) scale(.1)" font-size="47" fill="#7e7e7e">R15</text>
<text transform="translate(72.6 231.8) rotate(-89.6) scale(.1)" font-size="47" fill="#7e7e7e">LED1</text>
<text transform="translate(78 183) rotate(0.4) scale(.1)" font-size="33" fill="#7e7e7e">1</text>
<text transform="translate(90.2 178.2) rotate(0.4) scale(.1)" font-size="33" fill="#7e7e7e">2</text>
<text transform="translate(83.2 199.4) rotate(0.4) scale(.1)" font-size="47" fill="#7e7e7e">S7*</text>
<text transform="translate(95 174.6) rotate(0.4) scale(.1)" font-size="46" fill="#7e7e7e">12V</text>
<text transform="translate(125 202.2) rotate(0.4) scale(.1)" font-size="47" fill="#7e7e7e">C5</text>
<text transform="translate(135.1 181.1) rotate(0.4) scale(.1)" font-size="39" fill="#7e7e7e" textLength="36" lengthAdjust="spacingAndGlyphs">IN</text>
<text transform="translate(145.4 181.1) rotate(0.4) scale(.1)" font-size="39" fill="#7e7e7e" textLength="69" lengthAdjust="spacingAndGlyphs">OUT</text>
<text transform="translate(139.7 188) rotate(0.4) scale(.1)" font-size="39" fill="#7e7e7e" textLength="89" lengthAdjust="spacingAndGlyphs">GND</text>
<text transform="translate(148.6 193.5) rotate(0.4) scale(.1)" font-size="46" fill="#7e7e7e" textLength="53" lengthAdjust="spacingAndGlyphs">U2</text>
<text transform="translate(148.4 198.8) rotate(0.4) scale(.1)" font-size="48" fill="#7e7e7e" textLength="280" lengthAdjust="spacingAndGlyphs">R-78E5.0-1.0</text>
<text transform="translate(138.4 236.5) rotate(0.4) scale(.1)" font-size="47.5" fill="#7e7e7e">GND</text>
<text transform="translate(183.4 202.2) rotate(0.4) scale(.1)" font-size="47" fill="#7e7e7e">C6</text>
<text transform="translate(196.2 144.6) rotate(0.4) scale(.1)" font-size="47.5" fill="#7e7e7e">VCC</text>
<text transform="translate(180 163.3) rotate(0.4) scale(.1)" font-size="33" fill="#7e7e7e">1</text>
<text transform="translate(192.8 158.7) rotate(0.4) scale(.1)" font-size="33" fill="#7e7e7e">2</text>
<text transform="translate(185.5 180) rotate(0.4) scale(.1)" font-size="47" fill="#7e7e7e">S8*</text>
<text transform="translate(152.6 124) rotate(0.4) scale(.1)" font-size="79" fill="#cf4a4a" textLength="118" lengthAdjust="spacingAndGlyphs">USB</text>
<text transform="translate(163.6 124) rotate(0.4) scale(.1)" font-size="79" fill="#cf4a4a" textLength="100" lengthAdjust="spacingAndGlyphs">AB</text>
<text transform="translate(151.8 138.6) rotate(-89.6) scale(.1)" font-size="34" fill="#777" textLength="105" lengthAdjust="spacingAndGlyphs">SHLD</text>
<text transform="translate(157 133.4) rotate(-89.6) scale(.1)" font-size="30" fill="#777">GND</text>
<text transform="translate(161.4 134.4) rotate(-89.6) scale(.1)" font-size="30" fill="#777">D-</text>
<text transform="translate(166.4 134.4) rotate(-89.6) scale(.1)" font-size="30" fill="#777">D+</text>
<text transform="translate(171.4 137.6) rotate(-89.6) scale(.1)" font-size="30" fill="#777">VBUS</text>
<text transform="translate(137 147) rotate(-89.6) scale(.1)" font-size="47.5" fill="#7e7e7e">GND</text>
<text transform="translate(179.8 153.6) rotate(0.4) scale(.1)" font-size="33" fill="#7e7e7e">2</text>
<text transform="translate(235.6 155) rotate(0.4) scale(.1)" font-size="47.5" fill="#7e7e7e">VCC</text>
<text transform="translate(236.6 167.2) rotate(-89.6) scale(.1)" font-size="47" fill="#7e7e7e">+5V</text>
<text transform="translate(240.2 192.6) rotate(-89.6) scale(.1)" font-size="47" fill="#7e7e7e">R12</text>
<text transform="translate(249 212.8) rotate(-89.6) scale(.1)" font-size="46" fill="#7e7e7e" textLength="126" lengthAdjust="spacingAndGlyphs">LED1</text>
<text transform="translate(255.6 183.4) rotate(0.4) scale(.1)" font-size="47" fill="#7e7e7e">C18</text>
<text transform="translate(269.3 163) rotate(0.4) scale(.1)" font-size="46" fill="#7e7e7e">IC1</text>
<text transform="translate(274.6 169.8) rotate(0.4) scale(.1)" font-size="47" fill="#7e7e7e" textLength="190" lengthAdjust="spacingAndGlyphs">REG1117</text>
<text transform="translate(273.6 175.9) rotate(0.4) scale(.1)" font-size="37" fill="#7e7e7e" textLength="64" lengthAdjust="spacingAndGlyphs">VIN</text>
<text transform="translate(283.2 175.9) rotate(0.4) scale(.1)" font-size="37" fill="#7e7e7e" textLength="102" lengthAdjust="spacingAndGlyphs">VOUT</text>
<text transform="translate(285.2 186.4) rotate(-89.6) scale(.1)" font-size="34" fill="#7e7e7e">GND</text>
<text transform="translate(264.6 173.4) rotate(0.4) scale(.1)" font-size="33" fill="#7e7e7e">3</text>
<text transform="translate(303.5 173.4) rotate(0.4) scale(.1)" font-size="33" fill="#7e7e7e">2</text>
<text transform="translate(318.2 183.4) rotate(0.4) scale(.1)" font-size="47" fill="#7e7e7e">C19</text>
<text transform="translate(327.4 155) rotate(0.4) scale(.1)" font-size="47.5" fill="#7e7e7e">3.3V</text>
<text transform="translate(334.6 183) rotate(0.4) scale(.1)" font-size="47" fill="#7e7e7e">C34</text>
<text transform="translate(327.5 184) rotate(0.4) scale(.1)" font-size="35" fill="#cf4a4a">+</text>
<text transform="translate(281.6 195.4) rotate(0.4) scale(.1)" font-size="33" fill="#7e7e7e">1</text>
<text transform="translate(279.2 216) rotate(0.4) scale(.1)" font-size="47.5" fill="#7e7e7e">GND</text>
<text transform="translate(135.8 288) rotate(0.4) scale(.1)" font-size="47.5" fill="#7e7e7e">GND</text>
<text transform="translate(136.2 265) rotate(-89.6) scale(.1)" font-size="47" fill="#7e7e7e">+5V</text>
<text transform="translate(144.2 265.4) rotate(0.4) scale(.1)" font-size="47" fill="#7e7e7e">C20</text>
<text transform="translate(245.2 247.4) rotate(0.4) scale(.1)" font-size="47.5" fill="#7e7e7e">3.3V</text>
<text transform="translate(243.1 267.8) rotate(0.4) scale(.1)" font-size="48" fill="#7e7e7e" textLength="84" lengthAdjust="spacingAndGlyphs">C31</text>
<text transform="translate(255.5 267.8) rotate(0.4) scale(.1)" font-size="48" fill="#7e7e7e" textLength="84" lengthAdjust="spacingAndGlyphs">C32</text>
<text transform="translate(267.4 267.8) rotate(0.4) scale(.1)" font-size="48" fill="#7e7e7e" textLength="84" lengthAdjust="spacingAndGlyphs">C33</text>
<text transform="translate(247.6 296) rotate(0.4) scale(.1)" font-size="47.5" fill="#7e7e7e">GND</text>
<text transform="translate(190 326.2) rotate(0.4) scale(.1)" font-size="46" fill="#7e7e7e" textLength="180" lengthAdjust="spacingAndGlyphs">CH340G</text>
<text transform="translate(189 333.25) rotate(0.4) scale(.1)" font-size="40" fill="#7e7e7e">GND</text>
<text transform="translate(209.2 333.25) rotate(0.4) scale(.1)" font-size="40" fill="#7e7e7e" text-anchor="end">VCC</text>
<text transform="translate(179 331) rotate(0.4) scale(.1)" font-size="36" fill="#7e7e7e">1</text>
<text transform="translate(216.6 331) rotate(0.4) scale(.1)" font-size="36" fill="#7e7e7e">16</text>
<text transform="translate(189 338.08) rotate(0.4) scale(.1)" font-size="40" fill="#7e7e7e">TX</text>
<text transform="translate(209.2 338.08) rotate(0.4) scale(.1)" font-size="40" fill="#7e7e7e" text-anchor="end">R5232</text>
<text transform="translate(179 335.83) rotate(0.4) scale(.1)" font-size="36" fill="#7e7e7e">2</text>
<text transform="translate(216.6 335.83) rotate(0.4) scale(.1)" font-size="36" fill="#7e7e7e">15</text>
<text transform="translate(189 342.91) rotate(0.4) scale(.1)" font-size="40" fill="#7e7e7e">RX</text>
<text transform="translate(209.2 342.91) rotate(0.4) scale(.1)" font-size="40" fill="#7e7e7e" text-anchor="end">RTS</text>
<text transform="translate(179 340.66) rotate(0.4) scale(.1)" font-size="36" fill="#7e7e7e">3</text>
<text transform="translate(216.6 340.66) rotate(0.4) scale(.1)" font-size="36" fill="#7e7e7e">14</text>
<text transform="translate(189 347.74) rotate(0.4) scale(.1)" font-size="40" fill="#7e7e7e">V3</text>
<text transform="translate(209.2 347.74) rotate(0.4) scale(.1)" font-size="40" fill="#7e7e7e" text-anchor="end">DTR</text>
<text transform="translate(179 345.49) rotate(0.4) scale(.1)" font-size="36" fill="#7e7e7e">4</text>
<text transform="translate(216.6 345.49) rotate(0.4) scale(.1)" font-size="36" fill="#7e7e7e">13</text>
<text transform="translate(189 352.57) rotate(0.4) scale(.1)" font-size="40" fill="#7e7e7e">D+</text>
<text transform="translate(209.2 352.57) rotate(0.4) scale(.1)" font-size="40" fill="#7e7e7e" text-anchor="end">DCD</text>
<text transform="translate(179 350.32) rotate(0.4) scale(.1)" font-size="36" fill="#7e7e7e">5</text>
<text transform="translate(216.6 350.32) rotate(0.4) scale(.1)" font-size="36" fill="#7e7e7e">12</text>
<text transform="translate(189 357.4) rotate(0.4) scale(.1)" font-size="40" fill="#7e7e7e">D-</text>
<text transform="translate(209.2 357.4) rotate(0.4) scale(.1)" font-size="40" fill="#7e7e7e" text-anchor="end">RI</text>
<text transform="translate(179 355.15) rotate(0.4) scale(.1)" font-size="36" fill="#7e7e7e">6</text>
<text transform="translate(216.6 355.15) rotate(0.4) scale(.1)" font-size="36" fill="#7e7e7e">11</text>
<text transform="translate(189 362.23) rotate(0.4) scale(.1)" font-size="40" fill="#7e7e7e">XI</text>
<text transform="translate(209.2 362.23) rotate(0.4) scale(.1)" font-size="40" fill="#7e7e7e" text-anchor="end">DSR</text>
<text transform="translate(179 359.98) rotate(0.4) scale(.1)" font-size="36" fill="#7e7e7e">7</text>
<text transform="translate(216.6 359.98) rotate(0.4) scale(.1)" font-size="36" fill="#7e7e7e">10</text>
<text transform="translate(189 367.06) rotate(0.4) scale(.1)" font-size="40" fill="#7e7e7e">XO</text>
<text transform="translate(209.2 367.06) rotate(0.4) scale(.1)" font-size="40" fill="#7e7e7e" text-anchor="end">CTS</text>
<text transform="translate(179 364.81) rotate(0.4) scale(.1)" font-size="36" fill="#7e7e7e">8</text>
<text transform="translate(216.6 364.81) rotate(0.4) scale(.1)" font-size="36" fill="#7e7e7e">9</text>
<text transform="translate(159.2 331.6) rotate(0.4) scale(.1)" font-size="50" fill="#5a5a5a" textLength="89" lengthAdjust="spacingAndGlyphs" font-weight="bold">GND</text>
<text transform="translate(131.2 336.73) rotate(0.4) scale(.1)" font-size="50" fill="#5a5a5a" textLength="56" lengthAdjust="spacingAndGlyphs" font-weight="bold">RX</text>
<text transform="translate(131.2 341.56) rotate(0.4) scale(.1)" font-size="50" fill="#5a5a5a" textLength="56" lengthAdjust="spacingAndGlyphs" font-weight="bold">TX</text>
<text transform="translate(143.8 333.6) rotate(0.4) scale(.1)" font-size="47" fill="#7e7e7e">R13</text>
<text transform="translate(150 347.4) rotate(0.4) scale(.1)" font-size="47" fill="#7e7e7e">R14*</text>
<text transform="translate(113 318.5) rotate(-89.6) scale(.1)" font-size="47" fill="#7e7e7e">+5V</text>
<text transform="translate(162.3 351.22) rotate(0.4) scale(.1)" font-size="50" fill="#5a5a5a" textLength="56" lengthAdjust="spacingAndGlyphs" font-weight="bold">D+</text>
<text transform="translate(162.3 356.05) rotate(0.4) scale(.1)" font-size="50" fill="#5a5a5a" textLength="56" lengthAdjust="spacingAndGlyphs" font-weight="bold">D-</text>
<text transform="translate(163.4 360.88) rotate(0.4) scale(.1)" font-size="50" fill="#5a5a5a" textLength="48" lengthAdjust="spacingAndGlyphs" font-weight="bold">XI</text>
<text transform="translate(163.4 365.71) rotate(0.4) scale(.1)" font-size="50" fill="#5a5a5a" textLength="48" lengthAdjust="spacingAndGlyphs" font-weight="bold">XO</text>
<text transform="translate(143.8 362.4) rotate(0.4) scale(.1)" font-size="47" fill="#7e7e7e">Q1</text>
<text transform="translate(141.35 378.6) rotate(0.4) scale(.1)" font-size="48" fill="#7e7e7e" textLength="86" lengthAdjust="spacingAndGlyphs">C15</text>
<text transform="translate(170.6 378.6) rotate(0.4) scale(.1)" font-size="48" fill="#7e7e7e" textLength="86" lengthAdjust="spacingAndGlyphs">C16</text>
<text transform="translate(148.6 403.6) rotate(0.4) scale(.1)" font-size="47.5" fill="#7e7e7e">GND</text>
<text transform="translate(230.8 331.5) rotate(0.4) scale(.1)" font-size="47" fill="#5a5a5a" textLength="74" lengthAdjust="spacingAndGlyphs" font-weight="bold">VCC</text>
<text transform="translate(225.6 345.99) rotate(0.4) scale(.1)" font-size="47" fill="#5a5a5a" textLength="86" lengthAdjust="spacingAndGlyphs" font-weight="bold">DTR</text>
<text transform="translate(249.6 357.4) rotate(-89.6) scale(.1)" font-size="47" fill="#7e7e7e">C17</text>
<text transform="translate(264.6 345.99) rotate(0.4) scale(.1)" font-size="47" fill="#5a5a5a" textLength="80" lengthAdjust="spacingAndGlyphs" font-weight="bold">RST</text>
<text transform="translate(255.2 318.2) rotate(-89.6) scale(.1)" font-size="47" fill="#7e7e7e">+5V</text>
<text transform="translate(254 339.6) rotate(-89.6) scale(.1)" font-size="47" fill="#7e7e7e">R11</text>
<text transform="translate(255.4 360) rotate(0.4) scale(.1)" font-size="33" fill="#7e7e7e">1</text>
<text transform="translate(255.4 373.6) rotate(0.4) scale(.1)" font-size="33" fill="#7e7e7e">2</text>
<text transform="translate(272.6 366.4) rotate(-89.6) scale(.1)" font-size="47" fill="#7e7e7e">S6</text>
<text transform="translate(268.6 388) rotate(-89.6) scale(.1)" font-size="47" fill="#7e7e7e">DTSM-3</text>
<text transform="translate(252.5 394.4) rotate(0.4) scale(.1)" font-size="47.5" fill="#7e7e7e">GND</text>
<text transform="translate(367 293.6) rotate(0.4) scale(.1)" font-size="45" fill="#7e7e7e">L298N*</text>
<text transform="translate(375.6 371.2) rotate(0.4) scale(.1)" font-size="45" fill="#7e7e7e">U3*</text>
<text transform="translate(336.8 306.5) rotate(0.4) scale(.1)" font-size="42" fill="#7e7e7e">GND</text>
<text transform="translate(325.6 304.2) rotate(0.4) scale(.1)" font-size="37" fill="#7e7e7e">8</text>
<text transform="translate(336.8 316) rotate(0.4) scale(.1)" font-size="42" fill="#7e7e7e">OUT4</text>
<text transform="translate(325.6 313.7) rotate(0.4) scale(.1)" font-size="37" fill="#7e7e7e">14</text>
<text transform="translate(336.8 320.8) rotate(0.4) scale(.1)" font-size="42" fill="#7e7e7e">OUT3</text>
<text transform="translate(325.6 318.5) rotate(0.4) scale(.1)" font-size="37" fill="#7e7e7e">13</text>
<text transform="translate(336.8 325.7) rotate(0.4) scale(.1)" font-size="42" fill="#7e7e7e">OUT2</text>
<text transform="translate(325.6 323.4) rotate(0.4) scale(.1)" font-size="37" fill="#7e7e7e">3</text>
<text transform="translate(336.8 330.5) rotate(0.4) scale(.1)" font-size="42" fill="#7e7e7e">OUT1</text>
<text transform="translate(325.6 328.2) rotate(0.4) scale(.1)" font-size="37" fill="#7e7e7e">2</text>
<text transform="translate(336.8 340.2) rotate(0.4) scale(.1)" font-size="42" fill="#7e7e7e">SENSE_B</text>
<text transform="translate(325.6 337.9) rotate(0.4) scale(.1)" font-size="37" fill="#7e7e7e">15</text>
<text transform="translate(336.8 345) rotate(0.4) scale(.1)" font-size="42" fill="#7e7e7e">SENSE_A</text>
<text transform="translate(325.6 342.7) rotate(0.4) scale(.1)" font-size="37" fill="#7e7e7e">1</text>
<text transform="translate(336.8 354.8) rotate(0.4) scale(.1)" font-size="42" fill="#7e7e7e">VSS</text>
<text transform="translate(325.6 352.5) rotate(0.4) scale(.1)" font-size="37" fill="#7e7e7e">9</text>
<text transform="translate(336.8 359.6) rotate(0.4) scale(.1)" font-size="42" fill="#7e7e7e">VS</text>
<text transform="translate(325.6 357.3) rotate(0.4) scale(.1)" font-size="37" fill="#7e7e7e">4</text>
<text transform="translate(376.6 316) rotate(0.4) scale(.1)" font-size="42" fill="#7e7e7e" text-anchor="end">IN4</text>
<text transform="translate(384.6 313.7) rotate(0.4) scale(.1)" font-size="37" fill="#7e7e7e">12</text>
<text transform="translate(376.6 320.8) rotate(0.4) scale(.1)" font-size="42" fill="#7e7e7e" text-anchor="end">IN3</text>
<text transform="translate(384.6 318.5) rotate(0.4) scale(.1)" font-size="37" fill="#7e7e7e">10</text>
<text transform="translate(376.6 325.7) rotate(0.4) scale(.1)" font-size="42" fill="#7e7e7e" text-anchor="end">IN2</text>
<text transform="translate(384.6 323.4) rotate(0.4) scale(.1)" font-size="37" fill="#7e7e7e">7</text>
<text transform="translate(376.6 330.5) rotate(0.4) scale(.1)" font-size="42" fill="#7e7e7e" text-anchor="end">IN1</text>
<text transform="translate(384.6 328.2) rotate(0.4) scale(.1)" font-size="37" fill="#7e7e7e">5</text>
<text transform="translate(376.6 340.2) rotate(0.4) scale(.1)" font-size="42" fill="#7e7e7e" text-anchor="end">ENB</text>
<text transform="translate(384.6 337.9) rotate(0.4) scale(.1)" font-size="37" fill="#7e7e7e">11</text>
<text transform="translate(376.6 345) rotate(0.4) scale(.1)" font-size="42" fill="#7e7e7e" text-anchor="end">ENA</text>
<text transform="translate(384.6 342.7) rotate(0.4) scale(.1)" font-size="37" fill="#7e7e7e">6</text>
<text transform="translate(307.5 290) rotate(0.4) scale(.1)" font-size="47.5" fill="#7e7e7e">GND</text>
<text transform="translate(288.6 310.3) rotate(0.4) scale(.1)" font-size="50" fill="#787878" textLength="86" lengthAdjust="spacingAndGlyphs">ML1</text>
<text transform="translate(288.6 319.9) rotate(0.4) scale(.1)" font-size="50" fill="#787878" textLength="86" lengthAdjust="spacingAndGlyphs">ML2</text>
<text transform="translate(288.6 329.2) rotate(0.4) scale(.1)" font-size="50" fill="#787878" textLength="88" lengthAdjust="spacingAndGlyphs">MR1</text>
<text transform="translate(288.6 339.2) rotate(0.4) scale(.1)" font-size="50" fill="#787878" textLength="88" lengthAdjust="spacingAndGlyphs">MR2</text>
<text transform="translate(307 353.5) rotate(-89.6) scale(.1)" font-size="46" fill="#7e7e7e">GND</text>
<text transform="translate(309.7 376.3) rotate(0.4) scale(.1)" font-size="47" fill="#7e7e7e">12V*</text>
<text transform="translate(395.4 362.2) rotate(0.4) scale(.1)" font-size="47.5" fill="#7e7e7e">VCC</text>
</g>
</svg>
</body></html>
